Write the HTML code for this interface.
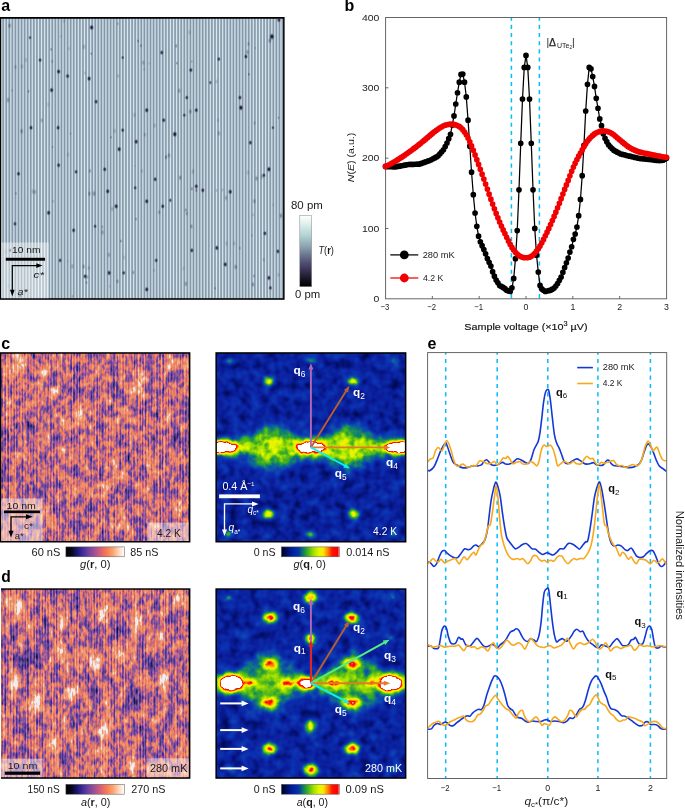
<!DOCTYPE html>
<html lang="en"><head><meta charset="utf-8"><title>Figure</title>
<style>html,body{margin:0;padding:0;background:#fff}svg{display:block}text{font-family:"Liberation Sans", sans-serif;}</style></head>
<body>
<svg width="685" height="809" viewBox="0 0 685 809">
<defs>
<linearGradient id="stripeA" gradientUnits="userSpaceOnUse" x1="0.07" x2="3.14" y1="0" y2="0" spreadMethod="repeat"><stop offset="0" stop-color="#8494a8"/><stop offset="0.12" stop-color="#8c9cb0"/><stop offset="0.5" stop-color="#d9eced"/><stop offset="0.88" stop-color="#8c9cb0"/><stop offset="1" stop-color="#8494a8"/></linearGradient>
<radialGradient id="spotA"><stop offset="0" stop-color="#120a26" stop-opacity="1"/><stop offset="0.35" stop-color="#1c1436" stop-opacity="0.85"/><stop offset="0.7" stop-color="#3a3a5a" stop-opacity="0.3"/><stop offset="1" stop-color="#556" stop-opacity="0"/></radialGradient>
<clipPath id="clipA"><rect x="1.1" y="18.5" width="282.2" height="279.9"/></clipPath>
<linearGradient id="cbA" x1="0" x2="0" y1="0" y2="1"><stop offset="0" stop-color="#ffffff"/><stop offset="0.12" stop-color="#dfeeee"/><stop offset="0.28" stop-color="#b3d2d2"/><stop offset="0.42" stop-color="#8fa9b3"/><stop offset="0.55" stop-color="#6c7892"/><stop offset="0.68" stop-color="#4f4870"/><stop offset="0.82" stop-color="#2c2740"/><stop offset="0.93" stop-color="#0e0c16"/><stop offset="1" stop-color="#000"/></linearGradient>
<filter id="texC" x="0" y="0" width="100%" height="100%" color-interpolation-filters="sRGB"><feTurbulence type="fractalNoise" baseFrequency="0.11 0.06" numOctaves="3" seed="11" result="n1"/><feTurbulence type="fractalNoise" baseFrequency="0.62 0.012" numOctaves="2" seed="18" result="n2"/><feTurbulence type="fractalNoise" baseFrequency="0.3 0.17" numOctaves="2" seed="14" result="n3"/><feColorMatrix in="n1" type="matrix" values="2.2 0 0 0 -0.600  2.2 0 0 0 -0.600  2.2 0 0 0 -0.600  0 0 0 0 1" result="a"/><feColorMatrix in="n2" type="matrix" values="0 2.0 0 0 -0.500  0 2.0 0 0 -0.500  0 2.0 0 0 -0.500  0 0 0 0 1" result="b"/><feColorMatrix in="n3" type="matrix" values="0 0 2.3 0 -0.650  0 0 2.3 0 -0.650  0 0 2.3 0 -0.650  0 0 0 0 1" result="c"/><feComposite in="a" in2="b" operator="arithmetic" k1="0" k2="0.36" k3="0.27" k4="0" result="ab"/><feComposite in="ab" in2="c" operator="arithmetic" k1="0" k2="1" k3="0.37" k4="0" result="abc"/><feGaussianBlur in="SourceGraphic" stdDeviation="2.2" result="src"/><feComposite in="abc" in2="src" operator="arithmetic" k1="0" k2="1" k3="1.0" k4="-0.480" result="s"/><feComponentTransfer in="s"><feFuncR type="table" tableValues="0.022 0.038 0.066 0.093 0.132 0.184 0.218 0.251 0.286 0.324 0.361 0.399 0.437 0.482 0.560 0.638 0.721 0.805 0.873 0.921 0.948 0.965 0.969 0.973 0.976 0.980 0.984 0.986 0.988 0.991 0.994 0.997 1.000"/><feFuncG type="table" tableValues="0.022 0.036 0.059 0.081 0.107 0.136 0.154 0.173 0.191 0.207 0.223 0.238 0.254 0.272 0.296 0.321 0.346 0.371 0.406 0.452 0.478 0.499 0.526 0.552 0.579 0.605 0.632 0.668 0.737 0.814 0.879 0.940 1.000"/><feFuncB type="table" tableValues="0.097 0.166 0.277 0.388 0.476 0.524 0.555 0.587 0.612 0.615 0.617 0.619 0.622 0.619 0.596 0.573 0.526 0.475 0.423 0.370 0.340 0.326 0.350 0.373 0.397 0.420 0.444 0.493 0.588 0.694 0.797 0.899 1.000"/><feFuncA type="linear" slope="0" intercept="1"/></feComponentTransfer></filter>
<filter id="texD" x="0" y="0" width="100%" height="100%" color-interpolation-filters="sRGB"><feTurbulence type="fractalNoise" baseFrequency="0.10 0.055" numOctaves="3" seed="29" result="n1"/><feTurbulence type="fractalNoise" baseFrequency="0.62 0.012" numOctaves="2" seed="36" result="n2"/><feTurbulence type="fractalNoise" baseFrequency="0.3 0.17" numOctaves="2" seed="32" result="n3"/><feColorMatrix in="n1" type="matrix" values="2.4 0 0 0 -0.700  2.4 0 0 0 -0.700  2.4 0 0 0 -0.700  0 0 0 0 1" result="a"/><feColorMatrix in="n2" type="matrix" values="0 2.1 0 0 -0.550  0 2.1 0 0 -0.550  0 2.1 0 0 -0.550  0 0 0 0 1" result="b"/><feColorMatrix in="n3" type="matrix" values="0 0 2.4 0 -0.700  0 0 2.4 0 -0.700  0 0 2.4 0 -0.700  0 0 0 0 1" result="c"/><feComposite in="a" in2="b" operator="arithmetic" k1="0" k2="0.36" k3="0.27" k4="0" result="ab"/><feComposite in="ab" in2="c" operator="arithmetic" k1="0" k2="1" k3="0.37" k4="0" result="abc"/><feGaussianBlur in="SourceGraphic" stdDeviation="2.2" result="src"/><feComposite in="abc" in2="src" operator="arithmetic" k1="0" k2="1" k3="1.5" k4="-0.725" result="s"/><feComponentTransfer in="s"><feFuncR type="table" tableValues="0.022 0.038 0.066 0.093 0.132 0.184 0.218 0.251 0.286 0.324 0.361 0.399 0.437 0.482 0.560 0.638 0.721 0.805 0.873 0.921 0.948 0.965 0.969 0.973 0.976 0.980 0.984 0.986 0.988 0.991 0.994 0.997 1.000"/><feFuncG type="table" tableValues="0.022 0.036 0.059 0.081 0.107 0.136 0.154 0.173 0.191 0.207 0.223 0.238 0.254 0.272 0.296 0.321 0.346 0.371 0.406 0.452 0.478 0.499 0.526 0.552 0.579 0.605 0.632 0.668 0.737 0.814 0.879 0.940 1.000"/><feFuncB type="table" tableValues="0.097 0.166 0.277 0.388 0.476 0.524 0.555 0.587 0.612 0.615 0.617 0.619 0.622 0.619 0.596 0.573 0.526 0.475 0.423 0.370 0.340 0.326 0.350 0.373 0.397 0.420 0.444 0.493 0.588 0.694 0.797 0.899 1.000"/><feFuncA type="linear" slope="0" intercept="1"/></feComponentTransfer></filter>
<pattern id="patG" x="0.4" y="0" width="2.87" height="40" patternUnits="userSpaceOnUse"><rect x="0" y="0" width="0.8" height="40" fill="#ffc79c" fill-opacity="0.42"/><rect x="1.45" y="0" width="0.8" height="40" fill="#40288c" fill-opacity="0.22"/></pattern>
<filter id="blB" x="-50%" y="-50%" width="200%" height="200%"><feGaussianBlur stdDeviation="2.5"/></filter>
<clipPath id="cliptexC"><rect x="1.2" y="353.7" width="187.6" height="187.20"/></clipPath>
<clipPath id="cliptexD"><rect x="1.2" y="589.8" width="187.6" height="187.40"/></clipPath>
<linearGradient id="cbM" x1="0" x2="1" y1="0" y2="0"><stop offset="0.0" stop-color="#000000"/><stop offset="0.1" stop-color="#07071f"/><stop offset="0.2" stop-color="#1c1874"/><stop offset="0.3" stop-color="#47309c"/><stop offset="0.4" stop-color="#77449f"/><stop offset="0.5" stop-color="#a65391"/><stop offset="0.6" stop-color="#d96272"/><stop offset="0.7" stop-color="#f67e52"/><stop offset="0.8" stop-color="#fba272"/><stop offset="0.9" stop-color="#fdd6ba"/><stop offset="1.0" stop-color="#ffffff"/></linearGradient>
<linearGradient id="cbJ" x1="0" x2="1" y1="0" y2="0"><stop offset="0" stop-color="#000018"/><stop offset="0.1" stop-color="#001068"/><stop offset="0.2" stop-color="#0020a6"/><stop offset="0.3" stop-color="#0636a2"/><stop offset="0.38" stop-color="#108060"/><stop offset="0.45" stop-color="#3fae20"/><stop offset="0.55" stop-color="#9fe000"/><stop offset="0.65" stop-color="#e6f800"/><stop offset="0.72" stop-color="#ffe600"/><stop offset="0.8" stop-color="#ff8200"/><stop offset="0.87" stop-color="#ff1400"/><stop offset="0.97" stop-color="#ff0000"/><stop offset="1" stop-color="#ffd0d0"/></linearGradient>
<filter id="jetC" x="0" y="0" width="100%" height="100%" color-interpolation-filters="sRGB"><feGaussianBlur in="SourceGraphic" stdDeviation="1.0" result="src"/><feTurbulence type="fractalNoise" baseFrequency="0.10 0.10" numOctaves="2" seed="5" result="n1"/><feTurbulence type="fractalNoise" baseFrequency="0.2 0.2" numOctaves="2" seed="9" result="n2"/><feColorMatrix in="n1" type="matrix" values="1 0 0 0 0  1 0 0 0 0  1 0 0 0 0  0 0 0 0 1" result="m1"/><feColorMatrix in="n2" type="matrix" values="0 2.2 0 0 -0.6  0 2.2 0 0 -0.6  0 2.2 0 0 -0.6  0 0 0 0 1" result="m2"/><feComposite in="src" in2="m2" operator="arithmetic" k1="0.3" k2="0.78" k3="0" k4="0" result="s1"/><feComposite in="s1" in2="m1" operator="arithmetic" k1="0" k2="1" k3="0.3" k4="0.02" result="s"/><feComponentTransfer in="s"><feFuncR type="table" tableValues="0.000 0.000 0.000 0.002 0.015 0.027 0.039 0.041 0.044 0.046 0.048 0.051 0.054 0.059 0.065 0.085 0.159 0.232 0.331 0.435 0.540 0.641 0.728 0.815 0.902 0.937 0.972 1.000 1.000 1.000 1.000 1.000 1.000 0.975 0.951 0.976 1.000 1.000 1.000 1.000 1.000"/><feFuncG type="table" tableValues="0.000 0.017 0.034 0.051 0.071 0.090 0.110 0.136 0.162 0.188 0.222 0.269 0.315 0.381 0.461 0.539 0.604 0.669 0.726 0.780 0.835 0.884 0.914 0.943 0.973 0.947 0.922 0.877 0.751 0.625 0.476 0.293 0.110 0.064 0.018 0.212 0.741 1.000 1.000 1.000 1.000"/><feFuncB type="table" tableValues="0.110 0.194 0.278 0.361 0.439 0.518 0.596 0.627 0.657 0.688 0.699 0.682 0.666 0.598 0.497 0.393 0.278 0.164 0.110 0.071 0.031 0.000 0.000 0.000 0.000 0.000 0.000 0.000 0.000 0.000 0.000 0.000 0.000 0.000 0.000 0.212 0.741 1.000 1.000 1.000 1.000"/><feFuncA type="linear" slope="0" intercept="1"/></feComponentTransfer></filter>
<filter id="jetD" x="0" y="0" width="100%" height="100%" color-interpolation-filters="sRGB"><feGaussianBlur in="SourceGraphic" stdDeviation="1.0" result="src"/><feTurbulence type="fractalNoise" baseFrequency="0.10 0.10" numOctaves="2" seed="17" result="n1"/><feTurbulence type="fractalNoise" baseFrequency="0.2 0.2" numOctaves="2" seed="21" result="n2"/><feColorMatrix in="n1" type="matrix" values="1 0 0 0 0  1 0 0 0 0  1 0 0 0 0  0 0 0 0 1" result="m1"/><feColorMatrix in="n2" type="matrix" values="0 2.2 0 0 -0.6  0 2.2 0 0 -0.6  0 2.2 0 0 -0.6  0 0 0 0 1" result="m2"/><feComposite in="src" in2="m2" operator="arithmetic" k1="0.24" k2="0.81" k3="0" k4="0" result="s1"/><feComposite in="s1" in2="m1" operator="arithmetic" k1="0" k2="1" k3="0.3" k4="0.025" result="s"/><feComponentTransfer in="s"><feFuncR type="table" tableValues="0.000 0.000 0.000 0.002 0.015 0.027 0.039 0.041 0.044 0.046 0.048 0.051 0.054 0.059 0.065 0.085 0.159 0.232 0.331 0.435 0.540 0.641 0.728 0.815 0.902 0.937 0.972 1.000 1.000 1.000 1.000 1.000 1.000 0.975 0.951 0.976 1.000 1.000 1.000 1.000 1.000"/><feFuncG type="table" tableValues="0.000 0.017 0.034 0.051 0.071 0.090 0.110 0.136 0.162 0.188 0.222 0.269 0.315 0.381 0.461 0.539 0.604 0.669 0.726 0.780 0.835 0.884 0.914 0.943 0.973 0.947 0.922 0.877 0.751 0.625 0.476 0.293 0.110 0.064 0.018 0.212 0.741 1.000 1.000 1.000 1.000"/><feFuncB type="table" tableValues="0.110 0.194 0.278 0.361 0.439 0.518 0.596 0.627 0.657 0.688 0.699 0.682 0.666 0.598 0.497 0.393 0.278 0.164 0.110 0.071 0.031 0.000 0.000 0.000 0.000 0.000 0.000 0.000 0.000 0.000 0.000 0.000 0.000 0.000 0.000 0.212 0.741 1.000 1.000 1.000 1.000"/><feFuncA type="linear" slope="0" intercept="1"/></feComponentTransfer></filter>
<filter id="bl3" x="-20%" y="-20%" width="140%" height="140%"><feGaussianBlur stdDeviation="2.6"/></filter>
<filter id="bl15" x="-30%" y="-30%" width="160%" height="160%"><feGaussianBlur stdDeviation="1.4"/></filter>
<filter id="bl4" x="-20%" y="-40%" width="140%" height="180%"><feGaussianBlur stdDeviation="4"/></filter>
<filter id="bl2" x="-50%" y="-50%" width="200%" height="200%"><feGaussianBlur stdDeviation="2"/></filter>
<clipPath id="clipjetC"><rect x="216.9" y="353.7" width="188.00" height="187.20"/></clipPath>
<clipPath id="clipjetD"><rect x="216.9" y="589.8" width="188.00" height="187.40"/></clipPath>
</defs>
<text x="1.20" y="11.20" font-size="16" font-weight="bold" fill="#000" >a</text>
<rect x="0.0" y="17.0" width="284.6" height="282.8" fill="#000"/>
<g clip-path="url(#clipA)">
<rect x="1.1" y="18.5" width="282.2" height="279.9" fill="url(#stripeA)"/>
<ellipse cx="91.6" cy="27.5" rx="2.61" ry="3.33" fill="url(#spotA)" opacity="0.95"/>
<ellipse cx="271.9" cy="36.6" rx="2.99" ry="3.82" fill="url(#spotA)" opacity="1.00"/>
<ellipse cx="278.9" cy="20.0" rx="2.36" ry="3.01" fill="url(#spotA)" opacity="0.83"/>
<ellipse cx="161.7" cy="52.6" rx="2.36" ry="3.01" fill="url(#spotA)" opacity="0.83"/>
<ellipse cx="245.9" cy="56.6" rx="2.36" ry="3.01" fill="url(#spotA)" opacity="0.83"/>
<ellipse cx="218.8" cy="59.1" rx="2.23" ry="2.85" fill="url(#spotA)" opacity="0.77"/>
<ellipse cx="58.6" cy="71.6" rx="2.48" ry="3.17" fill="url(#spotA)" opacity="0.89"/>
<ellipse cx="67.6" cy="76.1" rx="2.36" ry="3.01" fill="url(#spotA)" opacity="0.83"/>
<ellipse cx="89.1" cy="78.6" rx="2.48" ry="3.17" fill="url(#spotA)" opacity="0.89"/>
<ellipse cx="51.6" cy="90.1" rx="2.48" ry="3.17" fill="url(#spotA)" opacity="0.89"/>
<ellipse cx="190.8" cy="70.1" rx="2.36" ry="3.01" fill="url(#spotA)" opacity="0.83"/>
<ellipse cx="239.9" cy="97.6" rx="2.36" ry="3.01" fill="url(#spotA)" opacity="0.83"/>
<ellipse cx="186.8" cy="97.6" rx="2.23" ry="2.85" fill="url(#spotA)" opacity="0.77"/>
<ellipse cx="240.9" cy="107.7" rx="2.74" ry="3.50" fill="url(#spotA)" opacity="1.00"/>
<ellipse cx="96.1" cy="101.7" rx="2.36" ry="3.01" fill="url(#spotA)" opacity="0.83"/>
<ellipse cx="146.7" cy="110.2" rx="2.48" ry="3.17" fill="url(#spotA)" opacity="0.89"/>
<ellipse cx="196.3" cy="110.2" rx="2.36" ry="3.01" fill="url(#spotA)" opacity="0.83"/>
<ellipse cx="163.7" cy="120.2" rx="2.36" ry="3.01" fill="url(#spotA)" opacity="0.83"/>
<ellipse cx="31.0" cy="127.7" rx="2.36" ry="3.01" fill="url(#spotA)" opacity="0.83"/>
<ellipse cx="58.1" cy="127.7" rx="2.36" ry="3.01" fill="url(#spotA)" opacity="0.83"/>
<ellipse cx="174.8" cy="134.2" rx="2.74" ry="3.50" fill="url(#spotA)" opacity="1.00"/>
<ellipse cx="136.2" cy="141.7" rx="2.48" ry="3.17" fill="url(#spotA)" opacity="0.89"/>
<ellipse cx="119.2" cy="149.2" rx="2.48" ry="3.17" fill="url(#spotA)" opacity="0.89"/>
<ellipse cx="250.4" cy="142.7" rx="2.36" ry="3.01" fill="url(#spotA)" opacity="0.83"/>
<ellipse cx="58.6" cy="165.2" rx="2.36" ry="3.01" fill="url(#spotA)" opacity="0.83"/>
<ellipse cx="18.5" cy="173.8" rx="2.36" ry="3.01" fill="url(#spotA)" opacity="0.83"/>
<ellipse cx="76.1" cy="171.8" rx="2.23" ry="2.85" fill="url(#spotA)" opacity="0.77"/>
<ellipse cx="104.7" cy="169.3" rx="2.36" ry="3.01" fill="url(#spotA)" opacity="0.83"/>
<ellipse cx="268.9" cy="169.3" rx="2.61" ry="3.33" fill="url(#spotA)" opacity="0.95"/>
<ellipse cx="263.9" cy="175.3" rx="2.23" ry="2.85" fill="url(#spotA)" opacity="0.77"/>
<ellipse cx="155.2" cy="179.3" rx="2.36" ry="3.01" fill="url(#spotA)" opacity="0.83"/>
<ellipse cx="196.3" cy="186.3" rx="2.36" ry="3.01" fill="url(#spotA)" opacity="0.83"/>
<ellipse cx="202.8" cy="190.3" rx="2.36" ry="3.01" fill="url(#spotA)" opacity="0.83"/>
<ellipse cx="230.3" cy="191.8" rx="2.48" ry="3.17" fill="url(#spotA)" opacity="0.89"/>
<ellipse cx="107.7" cy="191.3" rx="2.48" ry="3.17" fill="url(#spotA)" opacity="0.89"/>
<ellipse cx="135.2" cy="187.8" rx="2.11" ry="2.69" fill="url(#spotA)" opacity="0.71"/>
<ellipse cx="146.7" cy="201.3" rx="2.48" ry="3.17" fill="url(#spotA)" opacity="0.89"/>
<ellipse cx="162.7" cy="206.3" rx="2.36" ry="3.01" fill="url(#spotA)" opacity="0.83"/>
<ellipse cx="116.2" cy="206.3" rx="2.48" ry="3.17" fill="url(#spotA)" opacity="0.89"/>
<ellipse cx="48.6" cy="212.8" rx="2.48" ry="3.17" fill="url(#spotA)" opacity="0.89"/>
<ellipse cx="15.0" cy="223.8" rx="2.23" ry="2.85" fill="url(#spotA)" opacity="0.77"/>
<ellipse cx="73.6" cy="230.3" rx="2.36" ry="3.01" fill="url(#spotA)" opacity="0.83"/>
<ellipse cx="95.1" cy="226.3" rx="2.11" ry="2.69" fill="url(#spotA)" opacity="0.71"/>
<ellipse cx="264.9" cy="233.4" rx="2.36" ry="3.01" fill="url(#spotA)" opacity="0.83"/>
<ellipse cx="216.8" cy="247.9" rx="2.48" ry="3.17" fill="url(#spotA)" opacity="0.89"/>
<ellipse cx="191.8" cy="250.4" rx="2.36" ry="3.01" fill="url(#spotA)" opacity="0.83"/>
<ellipse cx="156.2" cy="260.4" rx="2.23" ry="2.85" fill="url(#spotA)" opacity="0.77"/>
<ellipse cx="225.3" cy="264.4" rx="2.48" ry="3.17" fill="url(#spotA)" opacity="0.89"/>
<ellipse cx="60.1" cy="260.4" rx="2.23" ry="2.85" fill="url(#spotA)" opacity="0.77"/>
<ellipse cx="85.1" cy="276.4" rx="2.36" ry="3.01" fill="url(#spotA)" opacity="0.83"/>
<ellipse cx="109.2" cy="272.9" rx="2.48" ry="3.17" fill="url(#spotA)" opacity="0.89"/>
<ellipse cx="123.7" cy="272.9" rx="2.23" ry="2.85" fill="url(#spotA)" opacity="0.77"/>
<ellipse cx="268.9" cy="277.9" rx="2.48" ry="3.17" fill="url(#spotA)" opacity="0.89"/>
<ellipse cx="146.7" cy="289.4" rx="2.48" ry="3.17" fill="url(#spotA)" opacity="0.89"/>
<ellipse cx="270.4" cy="287.9" rx="2.23" ry="2.85" fill="url(#spotA)" opacity="0.77"/>
<ellipse cx="20.0" cy="295.4" rx="2.11" ry="2.69" fill="url(#spotA)" opacity="0.71"/>
<ellipse cx="170.3" cy="200.3" rx="2.11" ry="2.69" fill="url(#spotA)" opacity="0.71"/>
<ellipse cx="30.0" cy="37.6" rx="1.98" ry="2.53" fill="url(#spotA)" opacity="0.65"/>
<ellipse cx="40.1" cy="60.1" rx="2.23" ry="2.85" fill="url(#spotA)" opacity="0.77"/>
<ellipse cx="122.7" cy="57.6" rx="1.98" ry="2.53" fill="url(#spotA)" opacity="0.65"/>
<ellipse cx="210.3" cy="82.6" rx="1.98" ry="2.53" fill="url(#spotA)" opacity="0.65"/>
<ellipse cx="184.3" cy="115.2" rx="2.11" ry="2.69" fill="url(#spotA)" opacity="0.71"/>
<ellipse cx="122.7" cy="130.2" rx="2.23" ry="2.85" fill="url(#spotA)" opacity="0.77"/>
<ellipse cx="272.9" cy="127.7" rx="1.98" ry="2.53" fill="url(#spotA)" opacity="0.65"/>
<ellipse cx="10.0" cy="250.4" rx="1.98" ry="2.53" fill="url(#spotA)" opacity="0.65"/>
<ellipse cx="277.9" cy="251.4" rx="2.36" ry="3.01" fill="url(#spotA)" opacity="0.83"/>
<ellipse cx="68.9" cy="48.6" rx="1.72" ry="2.80" fill="url(#spotA)" opacity="0.16"/>
<ellipse cx="21.6" cy="131.2" rx="2.31" ry="3.75" fill="url(#spotA)" opacity="0.33"/>
<ellipse cx="216.5" cy="81.5" rx="1.88" ry="3.06" fill="url(#spotA)" opacity="0.19"/>
<ellipse cx="51.2" cy="49.4" rx="1.52" ry="2.47" fill="url(#spotA)" opacity="0.36"/>
<ellipse cx="234.3" cy="243.4" rx="2.18" ry="3.54" fill="url(#spotA)" opacity="0.17"/>
<ellipse cx="89.4" cy="193.7" rx="2.10" ry="3.41" fill="url(#spotA)" opacity="0.34"/>
<ellipse cx="248.5" cy="44.0" rx="1.96" ry="3.18" fill="url(#spotA)" opacity="0.29"/>
<ellipse cx="144.2" cy="69.2" rx="1.81" ry="2.94" fill="url(#spotA)" opacity="0.14"/>
<ellipse cx="263.8" cy="259.7" rx="1.89" ry="3.08" fill="url(#spotA)" opacity="0.20"/>
<ellipse cx="256.6" cy="178.5" rx="2.27" ry="3.69" fill="url(#spotA)" opacity="0.34"/>
<ellipse cx="144.8" cy="134.7" rx="1.95" ry="3.17" fill="url(#spotA)" opacity="0.23"/>
<ellipse cx="48.0" cy="104.5" rx="2.19" ry="3.56" fill="url(#spotA)" opacity="0.13"/>
<ellipse cx="15.9" cy="193.5" rx="1.59" ry="2.59" fill="url(#spotA)" opacity="0.26"/>
<ellipse cx="134.5" cy="115.0" rx="2.40" ry="3.90" fill="url(#spotA)" opacity="0.17"/>
<ellipse cx="118.2" cy="76.1" rx="1.99" ry="3.23" fill="url(#spotA)" opacity="0.19"/>
<ellipse cx="102.3" cy="226.9" rx="1.64" ry="2.66" fill="url(#spotA)" opacity="0.27"/>
<ellipse cx="255.3" cy="48.0" rx="1.35" ry="2.19" fill="url(#spotA)" opacity="0.18"/>
<ellipse cx="216.5" cy="190.5" rx="1.55" ry="2.51" fill="url(#spotA)" opacity="0.21"/>
<ellipse cx="52.5" cy="147.1" rx="1.33" ry="2.16" fill="url(#spotA)" opacity="0.30"/>
<ellipse cx="253.0" cy="284.5" rx="2.10" ry="3.42" fill="url(#spotA)" opacity="0.37"/>
<ellipse cx="8.1" cy="100.1" rx="2.36" ry="3.84" fill="url(#spotA)" opacity="0.32"/>
<ellipse cx="117.5" cy="281.3" rx="1.97" ry="3.21" fill="url(#spotA)" opacity="0.33"/>
<ellipse cx="84.9" cy="73.0" rx="1.78" ry="2.89" fill="url(#spotA)" opacity="0.16"/>
<ellipse cx="109.5" cy="286.4" rx="1.65" ry="2.68" fill="url(#spotA)" opacity="0.12"/>
<ellipse cx="15.5" cy="67.0" rx="2.16" ry="3.51" fill="url(#spotA)" opacity="0.21"/>
<ellipse cx="84.0" cy="46.9" rx="2.38" ry="3.87" fill="url(#spotA)" opacity="0.23"/>
<ellipse cx="61.0" cy="36.4" rx="1.34" ry="2.18" fill="url(#spotA)" opacity="0.16"/>
<ellipse cx="191.8" cy="61.5" rx="1.33" ry="2.15" fill="url(#spotA)" opacity="0.25"/>
<ellipse cx="72.5" cy="296.3" rx="1.42" ry="2.30" fill="url(#spotA)" opacity="0.26"/>
<ellipse cx="218.9" cy="133.4" rx="2.39" ry="3.88" fill="url(#spotA)" opacity="0.24"/>
<ellipse cx="70.5" cy="133.7" rx="1.32" ry="2.15" fill="url(#spotA)" opacity="0.23"/>
<ellipse cx="72.4" cy="266.3" rx="2.21" ry="3.59" fill="url(#spotA)" opacity="0.25"/>
<ellipse cx="11.8" cy="90.5" rx="1.55" ry="2.52" fill="url(#spotA)" opacity="0.17"/>
<ellipse cx="67.6" cy="260.9" rx="1.44" ry="2.34" fill="url(#spotA)" opacity="0.13"/>
<ellipse cx="261.9" cy="176.6" rx="2.39" ry="3.88" fill="url(#spotA)" opacity="0.22"/>
<ellipse cx="254.4" cy="201.2" rx="2.17" ry="3.52" fill="url(#spotA)" opacity="0.31"/>
<ellipse cx="140.9" cy="45.7" rx="1.52" ry="2.46" fill="url(#spotA)" opacity="0.35"/>
<ellipse cx="254.0" cy="276.1" rx="1.66" ry="2.69" fill="url(#spotA)" opacity="0.29"/>
<ellipse cx="226.1" cy="198.0" rx="2.19" ry="3.56" fill="url(#spotA)" opacity="0.26"/>
<ellipse cx="185.7" cy="210.0" rx="1.58" ry="2.57" fill="url(#spotA)" opacity="0.36"/>
<ellipse cx="269.8" cy="40.6" rx="2.37" ry="3.85" fill="url(#spotA)" opacity="0.37"/>
<ellipse cx="189.5" cy="32.3" rx="2.29" ry="3.72" fill="url(#spotA)" opacity="0.15"/>
<ellipse cx="273.2" cy="204.8" rx="1.35" ry="2.19" fill="url(#spotA)" opacity="0.16"/>
<ellipse cx="180.2" cy="177.7" rx="2.12" ry="3.44" fill="url(#spotA)" opacity="0.36"/>
<ellipse cx="64.0" cy="20.9" rx="2.31" ry="3.76" fill="url(#spotA)" opacity="0.12"/>
<ellipse cx="247.5" cy="52.1" rx="2.19" ry="3.55" fill="url(#spotA)" opacity="0.32"/>
<ellipse cx="247.9" cy="172.5" rx="2.26" ry="3.68" fill="url(#spotA)" opacity="0.17"/>
<ellipse cx="190.3" cy="111.6" rx="2.28" ry="3.70" fill="url(#spotA)" opacity="0.32"/>
<ellipse cx="134.6" cy="165.8" rx="1.31" ry="2.13" fill="url(#spotA)" opacity="0.13"/>
<ellipse cx="168.9" cy="155.4" rx="2.25" ry="3.65" fill="url(#spotA)" opacity="0.28"/>
<ellipse cx="41.7" cy="120.4" rx="2.14" ry="3.48" fill="url(#spotA)" opacity="0.26"/>
<ellipse cx="5.9" cy="252.0" rx="2.21" ry="3.59" fill="url(#spotA)" opacity="0.14"/>
<ellipse cx="154.6" cy="125.6" rx="2.16" ry="3.51" fill="url(#spotA)" opacity="0.20"/>
<ellipse cx="68.2" cy="154.8" rx="2.36" ry="3.84" fill="url(#spotA)" opacity="0.14"/>
<ellipse cx="34.9" cy="192.0" rx="2.27" ry="3.69" fill="url(#spotA)" opacity="0.25"/>
<ellipse cx="124.1" cy="257.6" rx="2.15" ry="3.49" fill="url(#spotA)" opacity="0.14"/>
<ellipse cx="248.9" cy="74.3" rx="1.62" ry="2.63" fill="url(#spotA)" opacity="0.34"/>
<ellipse cx="120.9" cy="241.1" rx="1.47" ry="2.38" fill="url(#spotA)" opacity="0.35"/>
<ellipse cx="52.2" cy="61.4" rx="1.83" ry="2.98" fill="url(#spotA)" opacity="0.21"/>
<ellipse cx="154.2" cy="270.4" rx="2.08" ry="3.37" fill="url(#spotA)" opacity="0.12"/>
<ellipse cx="90.0" cy="171.0" rx="1.82" ry="2.97" fill="url(#spotA)" opacity="0.31"/>
<ellipse cx="138.1" cy="41.0" rx="1.55" ry="2.53" fill="url(#spotA)" opacity="0.34"/>
<ellipse cx="102.5" cy="232.4" rx="2.38" ry="3.87" fill="url(#spotA)" opacity="0.28"/>
<ellipse cx="191.8" cy="188.8" rx="1.63" ry="2.65" fill="url(#spotA)" opacity="0.36"/>
<ellipse cx="133.3" cy="272.5" rx="1.62" ry="2.64" fill="url(#spotA)" opacity="0.35"/>
<ellipse cx="222.5" cy="189.8" rx="1.78" ry="2.88" fill="url(#spotA)" opacity="0.16"/>
<ellipse cx="218.1" cy="120.3" rx="2.02" ry="3.28" fill="url(#spotA)" opacity="0.15"/>
<ellipse cx="26.0" cy="59.9" rx="2.19" ry="3.55" fill="url(#spotA)" opacity="0.17"/>
<ellipse cx="254.6" cy="123.0" rx="1.93" ry="3.13" fill="url(#spotA)" opacity="0.21"/>
<ellipse cx="176.2" cy="45.9" rx="1.73" ry="2.81" fill="url(#spotA)" opacity="0.36"/>
<ellipse cx="53.1" cy="201.2" rx="1.65" ry="2.67" fill="url(#spotA)" opacity="0.20"/>
<ellipse cx="9.5" cy="25.6" rx="2.34" ry="3.81" fill="url(#spotA)" opacity="0.34"/>
<ellipse cx="226.5" cy="243.6" rx="2.35" ry="3.82" fill="url(#spotA)" opacity="0.16"/>
<ellipse cx="166.0" cy="157.2" rx="1.92" ry="3.12" fill="url(#spotA)" opacity="0.36"/>
<ellipse cx="215.1" cy="288.3" rx="1.41" ry="2.29" fill="url(#spotA)" opacity="0.29"/>
<ellipse cx="191.4" cy="226.4" rx="1.97" ry="3.20" fill="url(#spotA)" opacity="0.34"/>
<ellipse cx="87.5" cy="277.0" rx="1.73" ry="2.82" fill="url(#spotA)" opacity="0.28"/>
<ellipse cx="253.2" cy="214.9" rx="1.63" ry="2.64" fill="url(#spotA)" opacity="0.18"/>
<ellipse cx="94.1" cy="193.6" rx="2.40" ry="3.89" fill="url(#spotA)" opacity="0.35"/>
<ellipse cx="114.7" cy="131.0" rx="2.20" ry="3.57" fill="url(#spotA)" opacity="0.19"/>
<ellipse cx="117.8" cy="23.7" rx="1.49" ry="2.41" fill="url(#spotA)" opacity="0.26"/>
<ellipse cx="196.4" cy="190.3" rx="1.69" ry="2.74" fill="url(#spotA)" opacity="0.37"/>
<ellipse cx="176.9" cy="63.2" rx="1.36" ry="2.20" fill="url(#spotA)" opacity="0.37"/>
<ellipse cx="278.6" cy="274.8" rx="1.96" ry="3.18" fill="url(#spotA)" opacity="0.20"/>
<ellipse cx="28.5" cy="91.4" rx="1.53" ry="2.48" fill="url(#spotA)" opacity="0.36"/>
<ellipse cx="252.0" cy="235.5" rx="1.45" ry="2.35" fill="url(#spotA)" opacity="0.18"/>
<ellipse cx="86.5" cy="282.6" rx="1.46" ry="2.38" fill="url(#spotA)" opacity="0.33"/>
<ellipse cx="192.9" cy="171.6" rx="2.35" ry="3.83" fill="url(#spotA)" opacity="0.19"/>
<ellipse cx="149.3" cy="63.6" rx="1.39" ry="2.26" fill="url(#spotA)" opacity="0.13"/>
<ellipse cx="91.3" cy="53.7" rx="1.35" ry="2.19" fill="url(#spotA)" opacity="0.38"/>
<ellipse cx="83.6" cy="266.6" rx="2.07" ry="3.36" fill="url(#spotA)" opacity="0.31"/>
<ellipse cx="185.8" cy="283.9" rx="2.26" ry="3.68" fill="url(#spotA)" opacity="0.31"/>
<ellipse cx="159.2" cy="212.2" rx="2.09" ry="3.40" fill="url(#spotA)" opacity="0.26"/>
<ellipse cx="143.2" cy="62.7" rx="2.23" ry="3.62" fill="url(#spotA)" opacity="0.25"/>
<ellipse cx="21.9" cy="66.5" rx="2.26" ry="3.67" fill="url(#spotA)" opacity="0.19"/>
<ellipse cx="112.2" cy="209.0" rx="2.24" ry="3.65" fill="url(#spotA)" opacity="0.21"/>
<ellipse cx="110.9" cy="137.2" rx="1.31" ry="2.13" fill="url(#spotA)" opacity="0.35"/>
<ellipse cx="8.3" cy="285.9" rx="1.45" ry="2.36" fill="url(#spotA)" opacity="0.16"/>
<ellipse cx="239.8" cy="248.1" rx="1.54" ry="2.50" fill="url(#spotA)" opacity="0.26"/>
<ellipse cx="136.0" cy="219.0" rx="1.49" ry="2.42" fill="url(#spotA)" opacity="0.33"/>
<ellipse cx="281.0" cy="215.7" rx="2.31" ry="3.76" fill="url(#spotA)" opacity="0.36"/>
<ellipse cx="108.9" cy="254.8" rx="2.21" ry="3.60" fill="url(#spotA)" opacity="0.27"/>
<ellipse cx="32.9" cy="191.5" rx="2.30" ry="3.74" fill="url(#spotA)" opacity="0.20"/>
<ellipse cx="183.5" cy="268.5" rx="1.95" ry="3.17" fill="url(#spotA)" opacity="0.13"/>
<ellipse cx="179.3" cy="90.8" rx="2.24" ry="3.64" fill="url(#spotA)" opacity="0.29"/>
<ellipse cx="88.8" cy="268.1" rx="1.98" ry="3.22" fill="url(#spotA)" opacity="0.21"/>
<ellipse cx="235.7" cy="267.0" rx="2.28" ry="3.71" fill="url(#spotA)" opacity="0.35"/>
<ellipse cx="186.7" cy="213.5" rx="1.96" ry="3.18" fill="url(#spotA)" opacity="0.26"/>
<ellipse cx="278.5" cy="117.8" rx="1.37" ry="2.23" fill="url(#spotA)" opacity="0.31"/>
<ellipse cx="142.0" cy="171.1" rx="1.95" ry="3.17" fill="url(#spotA)" opacity="0.18"/>
<rect x="1.1" y="242.5" width="47.7" height="56" fill="#fff" fill-opacity="0.42"/>
</g>
<text x="12.10" y="252.60" font-size="9.9" textLength="28.30" lengthAdjust="spacingAndGlyphs" fill="#111" >10 nm</text>
<rect x="5.8" y="257.8" width="39.2" height="2.9" fill="#000"/>
<path d="M12.3 291 V265.6 H37.5" fill="none" stroke="#000" stroke-width="1.2"/>
<path d="M42.6 265.6 L36.3 263.3 L36.3 267.9 Z" fill="#000"/>
<path d="M12.3 296.4 L10.0 289.8 L14.6 289.8 Z" fill="#000"/>
<text x="33.60" y="277.90" font-size="9.3" textLength="10.50" lengthAdjust="spacingAndGlyphs" font-style="italic" fill="#1a1a1a" >c*</text>
<text x="17.60" y="295.30" font-size="9.3" textLength="10.20" lengthAdjust="spacingAndGlyphs" font-style="italic" fill="#1a1a1a" >a*</text>
<rect x="299.8" y="215.5" width="11.9" height="71.2" fill="url(#cbA)" stroke="#888" stroke-width="0.5"/>
<text x="291.00" y="208.60" font-size="10.2" textLength="31.80" lengthAdjust="spacingAndGlyphs" fill="#1a1a1a" >80 pm</text>
<text x="295.10" y="298.40" font-size="10.2" textLength="25.20" lengthAdjust="spacingAndGlyphs" fill="#1a1a1a" >0 pm</text>
<text x="318.4" y="254.3" font-size="10.2" fill="#1a1a1a" textLength="15.4" lengthAdjust="spacingAndGlyphs"><tspan font-style="italic">T</tspan>(<tspan font-weight="bold">r</tspan>)</text>
<text x="344.40" y="11.40" font-size="16" font-weight="bold" fill="#000" >b</text>
<line x1="511.4" y1="17.5" x2="511.4" y2="298.8" stroke="#0cbcf8" stroke-width="1.55" stroke-dasharray="4.1 4.06" stroke-dashoffset="0.82"/>
<line x1="539.4" y1="17.5" x2="539.4" y2="298.8" stroke="#0cbcf8" stroke-width="1.55" stroke-dasharray="4.1 4.06" stroke-dashoffset="0.82"/>
<rect x="385.6" y="17.5" width="281.0" height="281.3" fill="none" stroke="#5e5e5e" stroke-width="0.95"/>
<line x1="385.6" y1="228.47" x2="388.40000000000003" y2="228.47" stroke="#5e5e5e" stroke-width="0.95"/>
<line x1="385.6" y1="158.14" x2="388.40000000000003" y2="158.14" stroke="#5e5e5e" stroke-width="0.95"/>
<line x1="385.6" y1="87.81" x2="388.40000000000003" y2="87.81" stroke="#5e5e5e" stroke-width="0.95"/>
<line x1="432.34" y1="298.8" x2="432.34" y2="296.0" stroke="#5e5e5e" stroke-width="0.95"/>
<line x1="479.17" y1="298.8" x2="479.17" y2="296.0" stroke="#5e5e5e" stroke-width="0.95"/>
<line x1="526.00" y1="298.8" x2="526.00" y2="296.0" stroke="#5e5e5e" stroke-width="0.95"/>
<line x1="572.83" y1="298.8" x2="572.83" y2="296.0" stroke="#5e5e5e" stroke-width="0.95"/>
<line x1="619.66" y1="298.8" x2="619.66" y2="296.0" stroke="#5e5e5e" stroke-width="0.95"/>
<text x="379.30" y="302.05" font-size="9.1" text-anchor="end" textLength="5.80" lengthAdjust="spacingAndGlyphs" fill="#1a1a1a" >0</text>
<text x="379.30" y="231.72" font-size="9.1" text-anchor="end" textLength="17.40" lengthAdjust="spacingAndGlyphs" fill="#1a1a1a" >100</text>
<text x="379.30" y="161.39" font-size="9.1" text-anchor="end" textLength="17.40" lengthAdjust="spacingAndGlyphs" fill="#1a1a1a" >200</text>
<text x="379.30" y="91.06" font-size="9.1" text-anchor="end" textLength="17.40" lengthAdjust="spacingAndGlyphs" fill="#1a1a1a" >300</text>
<text x="379.30" y="20.73" font-size="9.1" text-anchor="end" textLength="17.40" lengthAdjust="spacingAndGlyphs" fill="#1a1a1a" >400</text>
<text x="384.91" y="310.40" font-size="9.1" text-anchor="middle" textLength="8.80" lengthAdjust="spacingAndGlyphs" fill="#1a1a1a" >−3</text>
<text x="431.74" y="310.40" font-size="9.1" text-anchor="middle" textLength="8.80" lengthAdjust="spacingAndGlyphs" fill="#1a1a1a" >−2</text>
<text x="478.57" y="310.40" font-size="9.1" text-anchor="middle" textLength="8.80" lengthAdjust="spacingAndGlyphs" fill="#1a1a1a" >−1</text>
<text x="526.00" y="310.40" font-size="9.1" text-anchor="middle" textLength="4.90" lengthAdjust="spacingAndGlyphs" fill="#1a1a1a" >0</text>
<text x="572.83" y="310.40" font-size="9.1" text-anchor="middle" textLength="4.90" lengthAdjust="spacingAndGlyphs" fill="#1a1a1a" >1</text>
<text x="619.66" y="310.40" font-size="9.1" text-anchor="middle" textLength="4.90" lengthAdjust="spacingAndGlyphs" fill="#1a1a1a" >2</text>
<text x="666.49" y="310.40" font-size="9.1" text-anchor="middle" textLength="4.90" lengthAdjust="spacingAndGlyphs" fill="#1a1a1a" >3</text>
<text x="464.3" y="329.6" font-size="9.6" fill="#111" stroke="#111" stroke-width="0.15" textLength="123.3" lengthAdjust="spacingAndGlyphs">Sample voltage (×10<tspan dy="-3.2" font-size="6.5">3</tspan><tspan dy="3.2"> µV)</tspan></text>
<text transform="translate(353.9 182.2) rotate(-90)" font-size="9.6" fill="#1a1a1a" textLength="49.5" lengthAdjust="spacingAndGlyphs"><tspan font-style="italic">N</tspan>(<tspan font-style="italic">E</tspan>) (a.u.)</text>
<polyline points="385.51,166.58 387.27,166.64 389.02,166.71 390.78,166.77 392.53,166.83 394.29,166.89 396.05,166.80 397.80,166.47 399.56,166.14 401.32,165.81 403.07,165.48 404.83,165.15 406.58,164.82 408.34,164.49 410.10,164.42 411.85,164.36 413.61,164.30 415.36,164.24 417.12,164.19 418.88,164.13 420.63,163.63 422.39,163.03 424.14,162.43 425.90,161.82 427.66,161.22 429.41,160.61 431.17,159.85 432.93,158.87 434.68,157.88 436.44,156.89 438.19,155.77 439.95,153.79 441.71,151.81 443.46,149.83 445.22,146.54 446.97,143.08 448.73,138.65 450.49,134.23 452.24,125.08 454.00,115.94 455.75,103.99 457.51,92.73 459.27,82.18 461.02,74.45 462.78,74.10 464.54,82.18 466.29,96.95 468.05,120.16 469.80,146.18 471.56,172.21 473.32,194.71 475.07,213.00 476.83,226.36 478.58,236.21 480.34,241.83 482.10,245.72 483.85,249.61 485.61,253.89 487.37,258.51 489.12,262.31 490.88,266.10 492.63,271.64 494.39,276.20 496.15,280.02 497.90,282.82 499.66,285.50 501.41,286.47 503.17,287.45 504.93,288.68 506.68,290.15 508.44,290.88 510.19,291.49 511.95,287.76 513.71,278.40 515.46,258.71 517.22,230.58 518.98,189.79 520.73,143.37 522.49,99.06 524.24,67.41 526.00,55.46 527.76,67.41 529.51,99.06 531.27,143.37 533.02,189.79 534.78,228.47 536.54,255.20 538.29,272.07 540.05,285.44 541.81,288.95 543.56,290.23 545.32,291.39 547.07,291.03 548.83,290.67 550.59,290.22 552.34,289.13 554.10,288.05 555.85,286.05 557.61,283.59 559.37,280.29 561.12,277.00 562.88,272.25 564.63,267.50 566.39,262.76 568.15,258.01 569.90,252.07 571.66,246.76 573.42,239.37 575.17,234.10 576.93,226.98 578.68,215.71 580.44,199.46 582.20,175.72 583.95,145.23 585.71,110.98 587.46,84.29 589.22,67.41 590.98,68.82 592.73,76.56 594.49,86.40 596.25,98.36 598.00,108.25 599.76,118.93 601.51,125.63 603.27,133.84 605.03,138.23 606.78,141.64 608.54,144.84 610.29,146.82 612.05,148.50 613.81,150.18 615.56,151.22 617.32,152.16 619.07,153.10 620.83,153.98 622.59,154.42 624.34,154.86 626.10,155.30 627.86,155.74 629.61,156.17 631.37,156.59 633.12,157.01 634.88,157.43 636.64,157.85 638.39,158.27 640.15,158.57 641.90,158.74 643.66,158.92 645.42,159.09 647.17,159.26 648.93,159.43 650.68,159.62 652.44,159.84 654.20,160.06 655.95,160.28 657.71,160.50 659.47,160.53 661.22,160.40 662.98,160.27 664.73,159.27 666.49,158.14" fill="none" stroke="#000" stroke-width="1.25" stroke-linejoin="round"/>
<path d="M385.51 166.58h0M387.27 166.64h0M389.02 166.71h0M390.78 166.77h0M392.53 166.83h0M394.29 166.89h0M396.05 166.80h0M397.80 166.47h0M399.56 166.14h0M401.32 165.81h0M403.07 165.48h0M404.83 165.15h0M406.58 164.82h0M408.34 164.49h0M410.10 164.42h0M411.85 164.36h0M413.61 164.30h0M415.36 164.24h0M417.12 164.19h0M418.88 164.13h0M420.63 163.63h0M422.39 163.03h0M424.14 162.43h0M425.90 161.82h0M427.66 161.22h0M429.41 160.61h0M431.17 159.85h0M432.93 158.87h0M434.68 157.88h0M436.44 156.89h0M438.19 155.77h0M439.95 153.79h0M441.71 151.81h0M443.46 149.83h0M445.22 146.54h0M446.97 143.08h0M448.73 138.65h0M450.49 134.23h0M452.24 125.08h0M454.00 115.94h0M455.75 103.99h0M457.51 92.73h0M459.27 82.18h0M461.02 74.45h0M462.78 74.10h0M464.54 82.18h0M466.29 96.95h0M468.05 120.16h0M469.80 146.18h0M471.56 172.21h0M473.32 194.71h0M475.07 213.00h0M476.83 226.36h0M478.58 236.21h0M480.34 241.83h0M482.10 245.72h0M483.85 249.61h0M485.61 253.89h0M487.37 258.51h0M489.12 262.31h0M490.88 266.10h0M492.63 271.64h0M494.39 276.20h0M496.15 280.02h0M497.90 282.82h0M499.66 285.50h0M501.41 286.47h0M503.17 287.45h0M504.93 288.68h0M506.68 290.15h0M508.44 290.88h0M510.19 291.49h0M511.95 287.76h0M513.71 278.40h0M515.46 258.71h0M517.22 230.58h0M518.98 189.79h0M520.73 143.37h0M522.49 99.06h0M524.24 67.41h0M526.00 55.46h0M527.76 67.41h0M529.51 99.06h0M531.27 143.37h0M533.02 189.79h0M534.78 228.47h0M536.54 255.20h0M538.29 272.07h0M540.05 285.44h0M541.81 288.95h0M543.56 290.23h0M545.32 291.39h0M547.07 291.03h0M548.83 290.67h0M550.59 290.22h0M552.34 289.13h0M554.10 288.05h0M555.85 286.05h0M557.61 283.59h0M559.37 280.29h0M561.12 277.00h0M562.88 272.25h0M564.63 267.50h0M566.39 262.76h0M568.15 258.01h0M569.90 252.07h0M571.66 246.76h0M573.42 239.37h0M575.17 234.10h0M576.93 226.98h0M578.68 215.71h0M580.44 199.46h0M582.20 175.72h0M583.95 145.23h0M585.71 110.98h0M587.46 84.29h0M589.22 67.41h0M590.98 68.82h0M592.73 76.56h0M594.49 86.40h0M596.25 98.36h0M598.00 108.25h0M599.76 118.93h0M601.51 125.63h0M603.27 133.84h0M605.03 138.23h0M606.78 141.64h0M608.54 144.84h0M610.29 146.82h0M612.05 148.50h0M613.81 150.18h0M615.56 151.22h0M617.32 152.16h0M619.07 153.10h0M620.83 153.98h0M622.59 154.42h0M624.34 154.86h0M626.10 155.30h0M627.86 155.74h0M629.61 156.17h0M631.37 156.59h0M633.12 157.01h0M634.88 157.43h0M636.64 157.85h0M638.39 158.27h0M640.15 158.57h0M641.90 158.74h0M643.66 158.92h0M645.42 159.09h0M647.17 159.26h0M648.93 159.43h0M650.68 159.62h0M652.44 159.84h0M654.20 160.06h0M655.95 160.28h0M657.71 160.50h0M659.47 160.53h0M661.22 160.40h0M662.98 160.27h0M664.73 159.27h0M666.49 158.14h0" fill="none" stroke="#000" stroke-width="5.7" stroke-linecap="round"/>
<polyline points="385.51,166.17 387.27,165.55 389.02,164.73 390.78,163.80 392.53,162.83 394.29,161.82 396.05,160.76 397.80,159.68 399.56,158.59 401.32,157.46 403.07,156.28 404.83,155.07 406.58,153.82 408.34,152.57 410.10,151.32 411.85,150.04 413.61,148.72 415.36,147.38 417.12,146.01 418.88,144.64 420.63,143.26 422.39,141.87 424.14,140.44 425.90,138.97 427.66,137.47 429.41,135.96 431.17,134.44 432.93,132.97 434.68,131.56 436.44,130.27 438.19,129.05 439.95,127.87 441.71,126.78 443.46,125.87 445.22,125.22 446.97,124.77 448.73,124.42 450.49,124.17 452.24,124.13 454.00,124.41 455.75,124.92 457.51,125.58 459.27,126.47 461.02,127.78 462.78,129.69 464.54,132.04 466.29,134.82 468.05,138.03 469.80,141.77 471.56,145.92 473.32,150.34 475.07,154.93 476.83,159.64 478.58,164.42 480.34,169.24 482.10,174.13 483.85,179.08 485.61,184.07 487.37,189.09 489.12,194.14 490.88,199.16 492.63,204.08 494.39,208.83 496.15,213.43 497.90,217.85 499.66,222.08 501.41,226.06 503.17,229.88 504.93,233.61 506.68,237.29 508.44,240.93 510.19,244.38 511.95,247.47 513.71,250.05 515.46,252.23 517.22,254.03 518.98,255.50 520.73,256.55 522.49,257.25 524.24,257.63 526.00,257.77 527.76,257.61 529.51,257.16 531.27,256.29 533.02,255.00 534.78,253.25 536.54,251.18 538.29,248.76 540.05,245.96 541.81,242.80 543.56,239.38 545.32,235.83 547.07,232.17 548.83,228.42 550.59,224.55 552.34,220.56 554.10,216.42 555.85,212.16 557.61,207.78 559.37,203.26 561.12,198.66 562.88,194.03 564.63,189.44 566.39,184.92 568.15,180.40 569.90,175.80 571.66,171.26 573.42,167.00 575.17,163.14 576.93,159.59 578.68,156.20 580.44,153.02 582.20,149.88 583.95,146.72 585.71,143.66 587.46,141.02 589.22,138.88 590.98,137.04 592.73,135.38 594.49,133.94 596.25,132.83 598.00,132.03 599.76,131.46 601.51,131.11 603.27,130.96 605.03,131.05 606.78,131.35 608.54,131.84 610.29,132.56 612.05,133.55 613.81,134.82 615.56,136.24 617.32,137.75 619.07,139.25 620.83,140.74 622.59,142.21 624.34,143.68 626.10,145.12 627.86,146.46 629.61,147.62 631.37,148.58 633.12,149.41 634.88,150.19 636.64,150.94 638.39,151.63 640.15,152.20 641.90,152.64 643.66,153.01 645.42,153.35 647.17,153.70 648.93,154.05 650.68,154.40 652.44,154.76 654.20,155.13 655.95,155.49 657.71,155.84 659.47,156.18 661.22,156.50 662.98,156.82 664.73,157.09 666.49,157.30" fill="none" stroke="#f00000" stroke-width="1.25" stroke-linejoin="round"/>
<path d="M385.51 166.17h0M387.27 165.55h0M389.02 164.73h0M390.78 163.80h0M392.53 162.83h0M394.29 161.82h0M396.05 160.76h0M397.80 159.68h0M399.56 158.59h0M401.32 157.46h0M403.07 156.28h0M404.83 155.07h0M406.58 153.82h0M408.34 152.57h0M410.10 151.32h0M411.85 150.04h0M413.61 148.72h0M415.36 147.38h0M417.12 146.01h0M418.88 144.64h0M420.63 143.26h0M422.39 141.87h0M424.14 140.44h0M425.90 138.97h0M427.66 137.47h0M429.41 135.96h0M431.17 134.44h0M432.93 132.97h0M434.68 131.56h0M436.44 130.27h0M438.19 129.05h0M439.95 127.87h0M441.71 126.78h0M443.46 125.87h0M445.22 125.22h0M446.97 124.77h0M448.73 124.42h0M450.49 124.17h0M452.24 124.13h0M454.00 124.41h0M455.75 124.92h0M457.51 125.58h0M459.27 126.47h0M461.02 127.78h0M462.78 129.69h0M464.54 132.04h0M466.29 134.82h0M468.05 138.03h0M469.80 141.77h0M471.56 145.92h0M473.32 150.34h0M475.07 154.93h0M476.83 159.64h0M478.58 164.42h0M480.34 169.24h0M482.10 174.13h0M483.85 179.08h0M485.61 184.07h0M487.37 189.09h0M489.12 194.14h0M490.88 199.16h0M492.63 204.08h0M494.39 208.83h0M496.15 213.43h0M497.90 217.85h0M499.66 222.08h0M501.41 226.06h0M503.17 229.88h0M504.93 233.61h0M506.68 237.29h0M508.44 240.93h0M510.19 244.38h0M511.95 247.47h0M513.71 250.05h0M515.46 252.23h0M517.22 254.03h0M518.98 255.50h0M520.73 256.55h0M522.49 257.25h0M524.24 257.63h0M526.00 257.77h0M527.76 257.61h0M529.51 257.16h0M531.27 256.29h0M533.02 255.00h0M534.78 253.25h0M536.54 251.18h0M538.29 248.76h0M540.05 245.96h0M541.81 242.80h0M543.56 239.38h0M545.32 235.83h0M547.07 232.17h0M548.83 228.42h0M550.59 224.55h0M552.34 220.56h0M554.10 216.42h0M555.85 212.16h0M557.61 207.78h0M559.37 203.26h0M561.12 198.66h0M562.88 194.03h0M564.63 189.44h0M566.39 184.92h0M568.15 180.40h0M569.90 175.80h0M571.66 171.26h0M573.42 167.00h0M575.17 163.14h0M576.93 159.59h0M578.68 156.20h0M580.44 153.02h0M582.20 149.88h0M583.95 146.72h0M585.71 143.66h0M587.46 141.02h0M589.22 138.88h0M590.98 137.04h0M592.73 135.38h0M594.49 133.94h0M596.25 132.83h0M598.00 132.03h0M599.76 131.46h0M601.51 131.11h0M603.27 130.96h0M605.03 131.05h0M606.78 131.35h0M608.54 131.84h0M610.29 132.56h0M612.05 133.55h0M613.81 134.82h0M615.56 136.24h0M617.32 137.75h0M619.07 139.25h0M620.83 140.74h0M622.59 142.21h0M624.34 143.68h0M626.10 145.12h0M627.86 146.46h0M629.61 147.62h0M631.37 148.58h0M633.12 149.41h0M634.88 150.19h0M636.64 150.94h0M638.39 151.63h0M640.15 152.20h0M641.90 152.64h0M643.66 153.01h0M645.42 153.35h0M647.17 153.70h0M648.93 154.05h0M650.68 154.40h0M652.44 154.76h0M654.20 155.13h0M655.95 155.49h0M657.71 155.84h0M659.47 156.18h0M661.22 156.50h0M662.98 156.82h0M664.73 157.09h0M666.49 157.30h0" fill="none" stroke="#f00000" stroke-width="5.7" stroke-linecap="round"/>
<line x1="390.3" y1="254.9" x2="418.3" y2="254.9" stroke="#000" stroke-width="1.25"/><circle cx="404.3" cy="254.9" r="4.4" fill="#000"/>
<line x1="390.3" y1="278.0" x2="418.3" y2="278.0" stroke="#f00000" stroke-width="1.25"/><circle cx="404.3" cy="278.0" r="4.4" fill="#f00000"/>
<text x="422.70" y="257.90" font-size="8.8" textLength="31.90" lengthAdjust="spacingAndGlyphs" fill="#1a1a1a" >280 mK</text>
<text x="422.90" y="280.90" font-size="8.8" textLength="20.50" lengthAdjust="spacingAndGlyphs" fill="#1a1a1a" >4.2 K</text>
<text x="546.4" y="45.8" font-size="10.4" fill="#1a1a1a">|<tspan stroke="#1a1a1a" stroke-width="0.25">Δ</tspan><tspan dx="1.0" dy="2.2" font-size="7.0">UTe</tspan><tspan dy="1.3" font-size="4.6">2</tspan><tspan dy="-3.5" font-size="10.4">|</tspan></text>
<text x="1.20" y="348.90" font-size="16" font-weight="bold" fill="#000" >c</text>
<text x="1.20" y="582.00" font-size="15.6" font-weight="bold" fill="#000" >d</text>
<rect x="0.0" y="352.2" width="190.4" height="190.30" fill="#000"/>
<g clip-path="url(#cliptexC)"><g filter="url(#texC)">
<rect x="-6" y="346.2" width="204" height="202.30" fill="#808080"/>
<ellipse cx="16.8" cy="366.8" rx="6.7" ry="9.7" fill="#fff" fill-opacity="0.62" filter="url(#blB)"/>
<ellipse cx="47.6" cy="369.6" rx="5.6" ry="8.1" fill="#fff" fill-opacity="0.62" filter="url(#blB)"/>
<ellipse cx="11.2" cy="406.1" rx="5.6" ry="8.1" fill="#fff" fill-opacity="0.62" filter="url(#blB)"/>
<ellipse cx="21.0" cy="386.4" rx="4.5" ry="6.4" fill="#fff" fill-opacity="0.62" filter="url(#blB)"/>
<ellipse cx="56.1" cy="392.0" rx="4.5" ry="6.4" fill="#fff" fill-opacity="0.62" filter="url(#blB)"/>
<ellipse cx="81.3" cy="414.5" rx="6.7" ry="9.7" fill="#fff" fill-opacity="0.62" filter="url(#blB)"/>
<ellipse cx="58.9" cy="417.3" rx="3.4" ry="4.8" fill="#fff" fill-opacity="0.62" filter="url(#blB)"/>
<ellipse cx="140.1" cy="383.6" rx="6.7" ry="9.7" fill="#fff" fill-opacity="0.62" filter="url(#blB)"/>
<ellipse cx="173.8" cy="366.8" rx="5.6" ry="8.1" fill="#fff" fill-opacity="0.62" filter="url(#blB)"/>
<ellipse cx="106.5" cy="397.6" rx="4.5" ry="6.4" fill="#fff" fill-opacity="0.62" filter="url(#blB)"/>
<ellipse cx="123.3" cy="414.5" rx="4.5" ry="6.4" fill="#fff" fill-opacity="0.62" filter="url(#blB)"/>
<ellipse cx="16.8" cy="456.5" rx="4.5" ry="6.4" fill="#fff" fill-opacity="0.62" filter="url(#blB)"/>
<ellipse cx="64.5" cy="450.9" rx="4.5" ry="6.4" fill="#fff" fill-opacity="0.62" filter="url(#blB)"/>
<ellipse cx="103.7" cy="487.3" rx="5.6" ry="8.1" fill="#fff" fill-opacity="0.62" filter="url(#blB)"/>
<ellipse cx="114.9" cy="462.1" rx="4.5" ry="6.4" fill="#fff" fill-opacity="0.62" filter="url(#blB)"/>
<ellipse cx="154.1" cy="470.5" rx="5.6" ry="8.1" fill="#fff" fill-opacity="0.62" filter="url(#blB)"/>
<ellipse cx="123.3" cy="523.8" rx="5.6" ry="8.1" fill="#fff" fill-opacity="0.62" filter="url(#blB)"/>
<ellipse cx="47.6" cy="515.4" rx="4.5" ry="6.4" fill="#fff" fill-opacity="0.62" filter="url(#blB)"/>
<ellipse cx="75.7" cy="490.1" rx="3.4" ry="4.8" fill="#fff" fill-opacity="0.62" filter="url(#blB)"/>
<ellipse cx="179.4" cy="507.0" rx="4.5" ry="6.4" fill="#fff" fill-opacity="0.62" filter="url(#blB)"/>
<ellipse cx="168.2" cy="417.3" rx="3.4" ry="4.8" fill="#fff" fill-opacity="0.62" filter="url(#blB)"/>
<ellipse cx="92.5" cy="378.0" rx="4.5" ry="6.4" fill="#fff" fill-opacity="0.62" filter="url(#blB)"/>
<ellipse cx="95.3" cy="392.0" rx="7.1" ry="9.7" fill="#000" fill-opacity="0.32" filter="url(#blB)"/>
<ellipse cx="56.1" cy="378.0" rx="4.8" ry="6.4" fill="#000" fill-opacity="0.32" filter="url(#blB)"/>
<ellipse cx="28.0" cy="422.9" rx="6.0" ry="8.1" fill="#000" fill-opacity="0.32" filter="url(#blB)"/>
<ellipse cx="98.1" cy="422.9" rx="6.0" ry="8.1" fill="#000" fill-opacity="0.32" filter="url(#blB)"/>
<ellipse cx="171.0" cy="434.1" rx="7.1" ry="9.7" fill="#000" fill-opacity="0.32" filter="url(#blB)"/>
<ellipse cx="179.4" cy="406.1" rx="4.8" ry="6.4" fill="#000" fill-opacity="0.32" filter="url(#blB)"/>
<ellipse cx="131.7" cy="453.7" rx="6.0" ry="8.1" fill="#000" fill-opacity="0.32" filter="url(#blB)"/>
<ellipse cx="44.8" cy="481.7" rx="6.0" ry="8.1" fill="#000" fill-opacity="0.32" filter="url(#blB)"/>
<ellipse cx="81.3" cy="507.0" rx="6.0" ry="8.1" fill="#000" fill-opacity="0.32" filter="url(#blB)"/>
<ellipse cx="128.9" cy="501.3" rx="6.0" ry="8.1" fill="#000" fill-opacity="0.32" filter="url(#blB)"/>
<ellipse cx="30.8" cy="394.8" rx="3.6" ry="4.8" fill="#000" fill-opacity="0.32" filter="url(#blB)"/>
<ellipse cx="151.3" cy="417.3" rx="4.8" ry="6.4" fill="#000" fill-opacity="0.32" filter="url(#blB)"/>
<ellipse cx="70.1" cy="470.5" rx="4.8" ry="6.4" fill="#000" fill-opacity="0.32" filter="url(#blB)"/>
<ellipse cx="162.6" cy="490.1" rx="4.8" ry="6.4" fill="#000" fill-opacity="0.32" filter="url(#blB)"/>
<ellipse cx="92.5" cy="464.9" rx="3.6" ry="4.8" fill="#000" fill-opacity="0.32" filter="url(#blB)"/>
<ellipse cx="8.4" cy="434.1" rx="3.6" ry="4.8" fill="#000" fill-opacity="0.32" filter="url(#blB)"/>
</g>
<rect x="1.2" y="353.7" width="187.6" height="187.20" fill="url(#patG)"/></g>
<rect x="1.0" y="588.3" width="189.4" height="190.50" fill="#000"/>
<g clip-path="url(#cliptexD)"><g filter="url(#texD)">
<rect x="-6" y="582.3" width="204" height="202.50" fill="#808080"/>
<ellipse cx="19.6" cy="608.4" rx="6.7" ry="9.7" fill="#fff" fill-opacity="0.62" filter="url(#blB)"/>
<ellipse cx="8.4" cy="597.2" rx="4.5" ry="6.4" fill="#fff" fill-opacity="0.62" filter="url(#blB)"/>
<ellipse cx="61.7" cy="625.2" rx="5.6" ry="8.1" fill="#fff" fill-opacity="0.62" filter="url(#blB)"/>
<ellipse cx="100.9" cy="614.0" rx="5.6" ry="8.1" fill="#fff" fill-opacity="0.62" filter="url(#blB)"/>
<ellipse cx="58.9" cy="653.3" rx="4.5" ry="6.4" fill="#fff" fill-opacity="0.62" filter="url(#blB)"/>
<ellipse cx="98.1" cy="661.7" rx="5.6" ry="8.1" fill="#fff" fill-opacity="0.62" filter="url(#blB)"/>
<ellipse cx="120.5" cy="656.1" rx="5.6" ry="8.1" fill="#fff" fill-opacity="0.62" filter="url(#blB)"/>
<ellipse cx="84.1" cy="653.3" rx="4.5" ry="6.4" fill="#fff" fill-opacity="0.62" filter="url(#blB)"/>
<ellipse cx="72.9" cy="692.5" rx="6.7" ry="9.7" fill="#fff" fill-opacity="0.62" filter="url(#blB)"/>
<ellipse cx="36.4" cy="703.7" rx="6.7" ry="9.7" fill="#fff" fill-opacity="0.62" filter="url(#blB)"/>
<ellipse cx="14.0" cy="684.1" rx="4.5" ry="6.4" fill="#fff" fill-opacity="0.62" filter="url(#blB)"/>
<ellipse cx="53.3" cy="740.1" rx="6.7" ry="9.7" fill="#fff" fill-opacity="0.62" filter="url(#blB)"/>
<ellipse cx="103.7" cy="731.7" rx="6.7" ry="9.7" fill="#fff" fill-opacity="0.62" filter="url(#blB)"/>
<ellipse cx="131.7" cy="765.4" rx="5.6" ry="8.1" fill="#fff" fill-opacity="0.62" filter="url(#blB)"/>
<ellipse cx="95.3" cy="754.2" rx="4.5" ry="6.4" fill="#fff" fill-opacity="0.62" filter="url(#blB)"/>
<ellipse cx="179.4" cy="600.0" rx="5.6" ry="8.1" fill="#fff" fill-opacity="0.62" filter="url(#blB)"/>
<ellipse cx="140.1" cy="622.4" rx="5.6" ry="8.1" fill="#fff" fill-opacity="0.62" filter="url(#blB)"/>
<ellipse cx="182.2" cy="712.1" rx="4.5" ry="6.4" fill="#fff" fill-opacity="0.62" filter="url(#blB)"/>
<ellipse cx="162.6" cy="678.5" rx="4.5" ry="6.4" fill="#fff" fill-opacity="0.62" filter="url(#blB)"/>
<ellipse cx="157.0" cy="636.4" rx="4.5" ry="6.4" fill="#fff" fill-opacity="0.62" filter="url(#blB)"/>
<ellipse cx="123.3" cy="720.5" rx="3.4" ry="4.8" fill="#fff" fill-opacity="0.62" filter="url(#blB)"/>
<ellipse cx="173.8" cy="757.0" rx="3.4" ry="4.8" fill="#fff" fill-opacity="0.62" filter="url(#blB)"/>
<ellipse cx="30.8" cy="658.9" rx="8.3" ry="11.3" fill="#000" fill-opacity="0.32" filter="url(#blB)"/>
<ellipse cx="16.8" cy="656.1" rx="6.0" ry="8.1" fill="#000" fill-opacity="0.32" filter="url(#blB)"/>
<ellipse cx="92.5" cy="684.1" rx="7.1" ry="9.7" fill="#000" fill-opacity="0.32" filter="url(#blB)"/>
<ellipse cx="131.7" cy="698.1" rx="8.3" ry="11.3" fill="#000" fill-opacity="0.32" filter="url(#blB)"/>
<ellipse cx="151.3" cy="661.7" rx="6.0" ry="8.1" fill="#000" fill-opacity="0.32" filter="url(#blB)"/>
<ellipse cx="173.8" cy="656.1" rx="6.0" ry="8.1" fill="#000" fill-opacity="0.32" filter="url(#blB)"/>
<ellipse cx="25.2" cy="726.1" rx="7.1" ry="9.7" fill="#000" fill-opacity="0.32" filter="url(#blB)"/>
<ellipse cx="78.5" cy="717.7" rx="4.8" ry="6.4" fill="#000" fill-opacity="0.32" filter="url(#blB)"/>
<ellipse cx="157.0" cy="737.3" rx="7.1" ry="9.7" fill="#000" fill-opacity="0.32" filter="url(#blB)"/>
<ellipse cx="117.7" cy="633.6" rx="4.8" ry="6.4" fill="#000" fill-opacity="0.32" filter="url(#blB)"/>
<ellipse cx="42.0" cy="630.8" rx="4.8" ry="6.4" fill="#000" fill-opacity="0.32" filter="url(#blB)"/>
<ellipse cx="75.7" cy="602.8" rx="4.8" ry="6.4" fill="#000" fill-opacity="0.32" filter="url(#blB)"/>
<ellipse cx="168.2" cy="619.6" rx="4.8" ry="6.4" fill="#000" fill-opacity="0.32" filter="url(#blB)"/>
<ellipse cx="70.1" cy="759.8" rx="4.8" ry="6.4" fill="#000" fill-opacity="0.32" filter="url(#blB)"/>
<ellipse cx="142.9" cy="726.1" rx="4.8" ry="6.4" fill="#000" fill-opacity="0.32" filter="url(#blB)"/>
<ellipse cx="11.2" cy="754.2" rx="4.8" ry="6.4" fill="#000" fill-opacity="0.32" filter="url(#blB)"/>
</g>
<rect x="1.2" y="589.8" width="187.6" height="187.40" fill="url(#patG)"/></g>
<rect x="1.2" y="498.4" width="41.4" height="42.6" fill="#fff" fill-opacity="0.45"/>
<rect x="147.5" y="522.6" width="41.3" height="18.4" fill="#fff" fill-opacity="0.45"/>
<text x="6.50" y="508.70" font-size="9.9" textLength="29.40" lengthAdjust="spacingAndGlyphs" fill="#1a1a1a" >10 nm</text>
<rect x="4.0" y="510.5" width="35.9" height="2.7" fill="#000"/>
<path d="M11 532 V516.8 H27" fill="none" stroke="#000" stroke-width="1.3"/>
<path d="M32.8 516.8 L26 514.3 L26 519.3 Z" fill="#000"/>
<path d="M11 537.5 L8.5 530.8 L13.5 530.8 Z" fill="#000"/>
<text x="24.00" y="528.50" font-size="9.6" textLength="9.10" lengthAdjust="spacingAndGlyphs" fill="#1a1a1a" >c*</text>
<text x="14.70" y="539.30" font-size="9.6" textLength="8.90" lengthAdjust="spacingAndGlyphs" fill="#1a1a1a" >a*</text>
<text x="157.00" y="536.50" font-size="10.2" textLength="23.90" lengthAdjust="spacingAndGlyphs" fill="#1a1a1a" >4.2 K</text>
<rect x="1.2" y="758.7" width="41.4" height="18.4" fill="#fff" fill-opacity="0.45"/>
<rect x="147.5" y="758.3" width="41.3" height="18.8" fill="#fff" fill-opacity="0.45"/>
<text x="7.70" y="769.10" font-size="9.9" textLength="29.60" lengthAdjust="spacingAndGlyphs" fill="#1a1a1a" >10 nm</text>
<rect x="4.8" y="771.6" width="35.3" height="3.2" fill="#000"/>
<text x="150.00" y="772.40" font-size="10.2" textLength="37.40" lengthAdjust="spacingAndGlyphs" fill="#1a1a1a" >280 mK</text>
<rect x="65.9" y="546.9" width="58.6" height="9.9" fill="url(#cbM)" stroke="#555" stroke-width="0.5"/>
<rect x="281.4" y="546.9" width="58.2" height="9.9" fill="url(#cbJ)" stroke="#555" stroke-width="0.5"/>
<rect x="65.9" y="784.3" width="58.6" height="9.9" fill="url(#cbM)" stroke="#555" stroke-width="0.5"/>
<rect x="281.4" y="784.3" width="58.2" height="9.9" fill="url(#cbJ)" stroke="#555" stroke-width="0.5"/>
<text x="31.50" y="556.20" font-size="10.2" textLength="28.90" lengthAdjust="spacingAndGlyphs" fill="#1a1a1a" >60 nS</text>
<text x="130.30" y="556.20" font-size="10.2" textLength="28.20" lengthAdjust="spacingAndGlyphs" fill="#1a1a1a" >85 nS</text>
<text x="80.0" y="567.9" font-size="10.2" fill="#1a1a1a" textLength="30.5" lengthAdjust="spacingAndGlyphs"><tspan font-style="italic">g</tspan>(<tspan font-weight="bold">r</tspan>, 0)</text>
<text x="27.60" y="793.20" font-size="10.2" textLength="32.10" lengthAdjust="spacingAndGlyphs" fill="#1a1a1a" >150 nS</text>
<text x="131.20" y="793.20" font-size="10.2" textLength="34.20" lengthAdjust="spacingAndGlyphs" fill="#1a1a1a" >270 nS</text>
<text x="81.0" y="805.6" font-size="10.2" fill="#1a1a1a" textLength="29.5" lengthAdjust="spacingAndGlyphs"><tspan font-style="italic">a</tspan>(<tspan font-weight="bold">r</tspan>, 0)</text>
<text x="253.70" y="556.20" font-size="10.2" textLength="21.90" lengthAdjust="spacingAndGlyphs" fill="#1a1a1a" >0 nS</text>
<text x="346.20" y="556.20" font-size="10.2" textLength="43.40" lengthAdjust="spacingAndGlyphs" fill="#1a1a1a" >0.014 nS</text>
<text x="293.5" y="567.9" font-size="10.2" fill="#1a1a1a" textLength="32.3" lengthAdjust="spacingAndGlyphs"><tspan font-style="italic">g</tspan>(<tspan font-weight="bold">q</tspan>, 0)</text>
<text x="253.70" y="793.20" font-size="10.2" textLength="21.90" lengthAdjust="spacingAndGlyphs" fill="#1a1a1a" >0 nS</text>
<text x="345.60" y="793.20" font-size="10.2" textLength="38.30" lengthAdjust="spacingAndGlyphs" fill="#1a1a1a" >0.09 nS</text>
<text x="296.7" y="805.6" font-size="10.2" fill="#1a1a1a" textLength="31.3" lengthAdjust="spacingAndGlyphs"><tspan font-style="italic">a</tspan>(<tspan font-weight="bold">q</tspan>, 0)</text>
<rect x="215.4" y="352.2" width="191.00" height="190.30" fill="#000"/>
<g clip-path="url(#clipjetC)"><g filter="url(#jetC)">
<rect x="211.9" y="348.7" width="198.00" height="197.20" fill="#000"/>
<polygon points="213.9,438.4 230.9,438.4 240.9,437.4 250.9,434.4 260.9,427.4 270.9,423.4 280.9,426.4 290.9,431.4 300.9,434.4 310.9,435.4 320.9,434.4 330.9,431.4 340.9,426.4 350.9,423.4 360.9,427.4 370.9,434.4 380.9,437.4 390.9,438.4 407.9,438.4 407.9,456.4 390.9,456.4 380.9,457.4 370.9,460.4 360.9,467.4 350.9,471.4 340.9,468.4 330.9,463.4 320.9,460.4 310.9,459.4 300.9,460.4 290.9,463.4 280.9,468.4 270.9,471.4 260.9,467.4 250.9,460.4 240.9,457.4 230.9,456.4 213.9,456.4" fill="#fff" fill-opacity="0.27" filter="url(#bl4)"/>
<polygon points="213.9,442.4 240.9,442.4 255.9,439.4 268.9,435.4 280.9,436.4 295.9,439.4 310.9,440.4 325.9,439.4 340.9,436.4 352.9,435.4 365.9,439.4 380.9,442.4 407.9,442.4 407.9,452.4 380.9,452.4 365.9,455.4 352.9,459.4 340.9,458.4 325.9,455.4 310.9,454.4 295.9,455.4 280.9,458.4 268.9,459.4 255.9,455.4 240.9,452.4 213.9,452.4" fill="#fff" fill-opacity="0.16" filter="url(#bl2)"/>
<ellipse cx="310.9" cy="447.4" rx="16.0" ry="6.8" fill="#fff" fill-opacity="0.45" filter="url(#bl2)"/>
<ellipse cx="310.9" cy="447.4" rx="13.3" ry="4.6" fill="#fff" fill-opacity="0.9" filter="url(#bl15)"/>
<ellipse cx="310.9" cy="447.4" rx="12.5" ry="3.8" fill="#fff"/>
<ellipse cx="221.9" cy="447.4" rx="16.5" ry="7.2" fill="#fff" fill-opacity="0.45" filter="url(#bl2)"/>
<ellipse cx="221.9" cy="447.4" rx="13.8" ry="5.0" fill="#fff" fill-opacity="0.9" filter="url(#bl15)"/>
<ellipse cx="221.9" cy="447.4" rx="13.0" ry="4.2" fill="#fff"/>
<ellipse cx="398.9" cy="447.4" rx="15.5" ry="7.2" fill="#fff" fill-opacity="0.45" filter="url(#bl2)"/>
<ellipse cx="398.9" cy="447.4" rx="12.8" ry="5.0" fill="#fff" fill-opacity="0.9" filter="url(#bl15)"/>
<ellipse cx="398.9" cy="447.4" rx="12.0" ry="4.2" fill="#fff"/>
<ellipse cx="268.6" cy="380.9" rx="7.1" ry="5.8" fill="#fff" fill-opacity="0.1" filter="url(#bl2)"/>
<ellipse cx="268.6" cy="380.9" rx="5.4" ry="4.4" fill="#fff" fill-opacity="0.3" filter="url(#bl15)"/>
<ellipse cx="268.6" cy="380.9" rx="1.6" ry="1.6" fill="#fff" fill-opacity="0.24"/>
<ellipse cx="228.5" cy="360.9" rx="5.8" ry="4.2" fill="#fff" fill-opacity="0.12" filter="url(#bl15)"/>
<ellipse cx="228.5" cy="360.9" rx="2.0" ry="1.4" fill="#fff" fill-opacity="0.2"/>
<ellipse cx="268.6" cy="513.9" rx="7.1" ry="5.8" fill="#fff" fill-opacity="0.1" filter="url(#bl2)"/>
<ellipse cx="268.6" cy="513.9" rx="5.4" ry="4.4" fill="#fff" fill-opacity="0.3" filter="url(#bl15)"/>
<ellipse cx="268.6" cy="513.9" rx="1.6" ry="1.6" fill="#fff" fill-opacity="0.24"/>
<ellipse cx="228.5" cy="533.9" rx="5.8" ry="4.2" fill="#fff" fill-opacity="0.12" filter="url(#bl15)"/>
<ellipse cx="228.5" cy="533.9" rx="2.0" ry="1.4" fill="#fff" fill-opacity="0.2"/>
<ellipse cx="310.9" cy="360.4" rx="6.8" ry="4.2" fill="#fff" fill-opacity="0.12" filter="url(#bl15)"/>
<ellipse cx="310.9" cy="360.4" rx="3.0" ry="1.4" fill="#fff" fill-opacity="0.2"/>
<ellipse cx="353.2" cy="380.9" rx="7.1" ry="5.8" fill="#fff" fill-opacity="0.1" filter="url(#bl2)"/>
<ellipse cx="353.2" cy="380.9" rx="5.4" ry="4.4" fill="#fff" fill-opacity="0.3" filter="url(#bl15)"/>
<ellipse cx="353.2" cy="380.9" rx="1.6" ry="1.6" fill="#fff" fill-opacity="0.24"/>
<ellipse cx="393.3" cy="360.9" rx="5.8" ry="4.2" fill="#fff" fill-opacity="0.12" filter="url(#bl15)"/>
<ellipse cx="393.3" cy="360.9" rx="2.0" ry="1.4" fill="#fff" fill-opacity="0.2"/>
<ellipse cx="353.2" cy="513.9" rx="7.1" ry="5.8" fill="#fff" fill-opacity="0.1" filter="url(#bl2)"/>
<ellipse cx="353.2" cy="513.9" rx="5.4" ry="4.4" fill="#fff" fill-opacity="0.3" filter="url(#bl15)"/>
<ellipse cx="353.2" cy="513.9" rx="1.6" ry="1.6" fill="#fff" fill-opacity="0.24"/>
<ellipse cx="393.3" cy="533.9" rx="5.8" ry="4.2" fill="#fff" fill-opacity="0.12" filter="url(#bl15)"/>
<ellipse cx="393.3" cy="533.9" rx="2.0" ry="1.4" fill="#fff" fill-opacity="0.2"/>
<ellipse cx="310.9" cy="534.4" rx="6.8" ry="4.2" fill="#fff" fill-opacity="0.12" filter="url(#bl15)"/>
<ellipse cx="310.9" cy="534.4" rx="3.0" ry="1.4" fill="#fff" fill-opacity="0.2"/>
</g></g>
<rect x="215.4" y="588.3" width="191.00" height="190.50" fill="#000"/>
<g clip-path="url(#clipjetD)"><g filter="url(#jetD)">
<rect x="211.9" y="584.8" width="198.00" height="197.40" fill="#000"/>
<polygon points="213.9,673.2 230.9,671.2 240.9,668.2 250.9,662.2 260.9,654.2 270.9,652.2 280.9,658.2 290.9,667.2 300.9,673.2 310.9,675.2 320.9,673.2 330.9,667.2 340.9,658.2 350.9,652.2 360.9,654.2 370.9,662.2 380.9,668.2 390.9,671.2 407.9,673.2 407.9,693.2 390.9,695.2 380.9,698.2 370.9,704.2 360.9,712.2 350.9,714.2 340.9,708.2 330.9,699.2 320.9,693.2 310.9,691.2 300.9,693.2 290.9,699.2 280.9,708.2 270.9,714.2 260.9,712.2 250.9,704.2 240.9,698.2 230.9,695.2 213.9,693.2" fill="#fff" fill-opacity="0.24" filter="url(#bl4)"/>
<polygon points="213.9,676.2 230.9,676.2 250.9,675.2 270.9,674.2 290.9,676.2 310.9,677.2 330.9,676.2 350.9,674.2 370.9,675.2 390.9,676.2 407.9,676.2 407.9,690.2 390.9,690.2 370.9,691.2 350.9,692.2 330.9,690.2 310.9,689.2 290.9,690.2 270.9,692.2 250.9,691.2 230.9,690.2 213.9,690.2" fill="#fff" fill-opacity="0.13" filter="url(#bl2)"/>
<ellipse cx="306.9" cy="683.2" rx="9.0" ry="6.0" fill="#fff" fill-opacity="0.45" filter="url(#bl2)"/>
<ellipse cx="306.9" cy="683.2" rx="6.3" ry="3.8" fill="#fff" fill-opacity="0.9" filter="url(#bl15)"/>
<ellipse cx="306.9" cy="683.2" rx="5.5" ry="3.0" fill="#fff"/>
<ellipse cx="231.4" cy="683.2" rx="13.3" ry="9.2" fill="#fff" fill-opacity="0.45" filter="url(#bl2)"/>
<ellipse cx="231.4" cy="683.2" rx="10.6" ry="7.0" fill="#fff" fill-opacity="0.9" filter="url(#bl15)"/>
<ellipse cx="231.4" cy="683.2" rx="9.8" ry="6.2" fill="#fff"/>
<ellipse cx="390.4" cy="683.2" rx="13.3" ry="9.2" fill="#fff" fill-opacity="0.45" filter="url(#bl2)"/>
<ellipse cx="390.4" cy="683.2" rx="10.6" ry="7.0" fill="#fff" fill-opacity="0.9" filter="url(#bl15)"/>
<ellipse cx="390.4" cy="683.2" rx="9.8" ry="6.2" fill="#fff"/>
<ellipse cx="269.9" cy="617.7" rx="9.1" ry="6.6" fill="#fff" fill-opacity="0.2" filter="url(#bl2)"/>
<ellipse cx="269.9" cy="617.7" rx="7.4" ry="5.2" fill="#fff" fill-opacity="0.32" filter="url(#bl15)"/>
<ellipse cx="269.9" cy="617.7" rx="3.6" ry="2.4" fill="#fff" fill-opacity="0.44"/>
<ellipse cx="269.9" cy="663.9" rx="9.7" ry="6.6" fill="#fff" fill-opacity="0.14" filter="url(#bl2)"/>
<ellipse cx="269.9" cy="663.9" rx="8.0" ry="5.2" fill="#fff" fill-opacity="0.3" filter="url(#bl15)"/>
<ellipse cx="269.9" cy="663.9" rx="4.2" ry="2.4" fill="#fff" fill-opacity="0.24"/>
<ellipse cx="228.9" cy="597.7" rx="5.8" ry="4.2" fill="#fff" fill-opacity="0.12" filter="url(#bl15)"/>
<ellipse cx="228.9" cy="597.7" rx="2.0" ry="1.4" fill="#fff" fill-opacity="0.2"/>
<ellipse cx="269.9" cy="748.7" rx="9.1" ry="6.6" fill="#fff" fill-opacity="0.2" filter="url(#bl2)"/>
<ellipse cx="269.9" cy="748.7" rx="7.4" ry="5.2" fill="#fff" fill-opacity="0.32" filter="url(#bl15)"/>
<ellipse cx="269.9" cy="748.7" rx="3.6" ry="2.4" fill="#fff" fill-opacity="0.44"/>
<ellipse cx="269.9" cy="702.5" rx="9.7" ry="6.6" fill="#fff" fill-opacity="0.14" filter="url(#bl2)"/>
<ellipse cx="269.9" cy="702.5" rx="8.0" ry="5.2" fill="#fff" fill-opacity="0.3" filter="url(#bl15)"/>
<ellipse cx="269.9" cy="702.5" rx="4.2" ry="2.4" fill="#fff" fill-opacity="0.24"/>
<ellipse cx="228.9" cy="768.7" rx="5.8" ry="4.2" fill="#fff" fill-opacity="0.12" filter="url(#bl15)"/>
<ellipse cx="228.9" cy="768.7" rx="2.0" ry="1.4" fill="#fff" fill-opacity="0.2"/>
<ellipse cx="310.9" cy="597.2" rx="8.7" ry="7.0" fill="#fff" fill-opacity="0.2" filter="url(#bl2)"/>
<ellipse cx="310.9" cy="597.2" rx="7.0" ry="5.6" fill="#fff" fill-opacity="0.32" filter="url(#bl15)"/>
<ellipse cx="310.9" cy="597.2" rx="3.2" ry="2.8" fill="#fff" fill-opacity="0.33"/>
<ellipse cx="351.9" cy="617.7" rx="9.1" ry="6.6" fill="#fff" fill-opacity="0.2" filter="url(#bl2)"/>
<ellipse cx="351.9" cy="617.7" rx="7.4" ry="5.2" fill="#fff" fill-opacity="0.32" filter="url(#bl15)"/>
<ellipse cx="351.9" cy="617.7" rx="3.6" ry="2.4" fill="#fff" fill-opacity="0.44"/>
<ellipse cx="351.9" cy="663.9" rx="9.7" ry="6.6" fill="#fff" fill-opacity="0.14" filter="url(#bl2)"/>
<ellipse cx="351.9" cy="663.9" rx="8.0" ry="5.2" fill="#fff" fill-opacity="0.3" filter="url(#bl15)"/>
<ellipse cx="351.9" cy="663.9" rx="4.2" ry="2.4" fill="#fff" fill-opacity="0.24"/>
<ellipse cx="392.9" cy="597.7" rx="5.8" ry="4.2" fill="#fff" fill-opacity="0.12" filter="url(#bl15)"/>
<ellipse cx="392.9" cy="597.7" rx="2.0" ry="1.4" fill="#fff" fill-opacity="0.2"/>
<ellipse cx="351.9" cy="748.7" rx="9.1" ry="6.6" fill="#fff" fill-opacity="0.2" filter="url(#bl2)"/>
<ellipse cx="351.9" cy="748.7" rx="7.4" ry="5.2" fill="#fff" fill-opacity="0.32" filter="url(#bl15)"/>
<ellipse cx="351.9" cy="748.7" rx="3.6" ry="2.4" fill="#fff" fill-opacity="0.44"/>
<ellipse cx="351.9" cy="702.5" rx="9.7" ry="6.6" fill="#fff" fill-opacity="0.14" filter="url(#bl2)"/>
<ellipse cx="351.9" cy="702.5" rx="8.0" ry="5.2" fill="#fff" fill-opacity="0.3" filter="url(#bl15)"/>
<ellipse cx="351.9" cy="702.5" rx="4.2" ry="2.4" fill="#fff" fill-opacity="0.24"/>
<ellipse cx="392.9" cy="768.7" rx="5.8" ry="4.2" fill="#fff" fill-opacity="0.12" filter="url(#bl15)"/>
<ellipse cx="392.9" cy="768.7" rx="2.0" ry="1.4" fill="#fff" fill-opacity="0.2"/>
<ellipse cx="310.9" cy="769.2" rx="8.7" ry="7.0" fill="#fff" fill-opacity="0.2" filter="url(#bl2)"/>
<ellipse cx="310.9" cy="769.2" rx="7.0" ry="5.6" fill="#fff" fill-opacity="0.32" filter="url(#bl15)"/>
<ellipse cx="310.9" cy="769.2" rx="3.2" ry="2.8" fill="#fff" fill-opacity="0.33"/>
<ellipse cx="310.9" cy="638.7" rx="7.5" ry="7.2" fill="#fff" fill-opacity="0.12" filter="url(#bl2)"/>
<ellipse cx="310.9" cy="638.7" rx="5.8" ry="5.8" fill="#fff" fill-opacity="0.26" filter="url(#bl15)"/>
<ellipse cx="310.9" cy="638.7" rx="2.0" ry="3.0" fill="#fff" fill-opacity="0.62"/>
<ellipse cx="310.9" cy="726.2" rx="7.5" ry="8.2" fill="#fff" fill-opacity="0.1" filter="url(#bl2)"/>
<ellipse cx="310.9" cy="726.2" rx="5.8" ry="6.8" fill="#fff" fill-opacity="0.22" filter="url(#bl15)"/>
<ellipse cx="310.9" cy="726.2" rx="2.0" ry="4.0" fill="#fff" fill-opacity="0.36"/>
<ellipse cx="392.4" cy="637.7" rx="5.8" ry="4.2" fill="#fff" fill-opacity="0.1" filter="url(#bl15)"/>
<ellipse cx="392.4" cy="637.7" rx="2.0" ry="1.4" fill="#fff" fill-opacity="0.2"/>
<ellipse cx="250.5" cy="683.2" rx="6.0" ry="4.5" fill="#fff" fill-opacity="0.25" filter="url(#bl15)"/>
<ellipse cx="250.5" cy="683.2" rx="2.2" ry="1.7" fill="#fff" fill-opacity="0.52"/>
<ellipse cx="286.9" cy="683.2" rx="7.8" ry="4.5" fill="#fff" fill-opacity="0.25" filter="url(#bl15)"/>
<ellipse cx="286.9" cy="683.2" rx="4.0" ry="1.7" fill="#fff" fill-opacity="0.52"/>
<ellipse cx="298.9" cy="683.2" rx="6.2" ry="4.5" fill="#fff" fill-opacity="0.25" filter="url(#bl15)"/>
<ellipse cx="298.9" cy="683.2" rx="2.4" ry="1.7" fill="#fff" fill-opacity="0.52"/>
<ellipse cx="330.5" cy="683.2" rx="6.8" ry="4.5" fill="#fff" fill-opacity="0.25" filter="url(#bl15)"/>
<ellipse cx="330.5" cy="683.2" rx="3.0" ry="1.7" fill="#fff" fill-opacity="0.52"/>
<ellipse cx="336.9" cy="683.2" rx="5.8" ry="4.5" fill="#fff" fill-opacity="0.25" filter="url(#bl15)"/>
<ellipse cx="336.9" cy="683.2" rx="2.0" ry="1.7" fill="#fff" fill-opacity="0.52"/>
<ellipse cx="371.4" cy="683.2" rx="6.0" ry="4.5" fill="#fff" fill-opacity="0.25" filter="url(#bl15)"/>
<ellipse cx="371.4" cy="683.2" rx="2.2" ry="1.7" fill="#fff" fill-opacity="0.52"/>
</g></g>
<line x1="310.90" y1="447.40" x2="310.90" y2="368.80" stroke="#b468b4" stroke-width="1.9"/>
<path d="M310.90 363.20 L313.40 369.60 L308.40 369.60 Z" fill="#b468b4"/>
<line x1="310.90" y1="447.40" x2="346.43" y2="390.55" stroke="#b8602c" stroke-width="1.9"/>
<path d="M349.40 385.80 L348.13 392.55 L343.89 389.90 Z" fill="#b8602c"/>
<line x1="310.90" y1="447.40" x2="384.60" y2="447.40" stroke="#e27a26" stroke-width="1.9"/>
<path d="M390.20 447.40 L383.80 449.90 L383.80 444.90 Z" fill="#e27a26"/>
<line x1="310.90" y1="447.40" x2="345.07" y2="465.75" stroke="#0cf0f0" stroke-width="1.9"/>
<path d="M350.00 468.40 L343.18 467.57 L345.54 463.17 Z" fill="#0cf0f0"/>
<text x="293.50" y="374.10" font-size="11.8" font-weight="bold" fill="#fff">q<tspan dy="2.8" font-size="8.4" font-weight="normal">6</tspan></text>
<text x="353.10" y="396.20" font-size="11.8" font-weight="bold" fill="#fff">q<tspan dy="2.8" font-size="8.4" font-weight="normal">2</tspan></text>
<text x="386.00" y="466.30" font-size="11.8" font-weight="bold" fill="#fff">q<tspan dy="2.8" font-size="8.4" font-weight="normal">4</tspan></text>
<text x="334.80" y="477.40" font-size="11.8" font-weight="bold" fill="#fff">q<tspan dy="2.8" font-size="8.4" font-weight="normal">5</tspan></text>
<text x="222.4" y="490.4" font-size="10.6" fill="#fff" textLength="32.2" lengthAdjust="spacingAndGlyphs">0.4 Å<tspan dy="-4.2" font-size="6.2">−1</tspan></text>
<rect x="219.1" y="494.4" width="40.8" height="3.8" fill="#fff"/>
<path d="M224.5 531 V503.9 H253.5" fill="none" stroke="#fff" stroke-width="1.35"/>
<path d="M258.6 503.9 L252 501.4 L252 506.4 Z" fill="#fff"/>
<path d="M224.5 536.1 L222.0 529.6 L227.0 529.6 Z" fill="#fff"/>
<text x="247.4" y="513.2" font-size="10.2" fill="#fff"><tspan font-style="italic">q</tspan><tspan dy="2.2" font-size="6.4">c*</tspan></text>
<text x="228.5" y="531.4" font-size="10.2" fill="#fff"><tspan font-style="italic">q</tspan><tspan dy="2.2" font-size="6.4">a*</tspan></text>
<text x="373.10" y="535.00" font-size="10.2" textLength="24.00" lengthAdjust="spacingAndGlyphs" fill="#fff" >4.2 K</text>
<line x1="310.90" y1="683.20" x2="310.90" y2="603.80" stroke="#b468b4" stroke-width="1.9"/>
<path d="M310.90 598.20 L313.40 604.60 L308.40 604.60 Z" fill="#b468b4"/>
<line x1="310.90" y1="683.20" x2="310.90" y2="646.20" stroke="#e8201a" stroke-width="1.9"/>
<path d="M310.90 640.60 L313.40 647.00 L308.40 647.00 Z" fill="#e8201a"/>
<line x1="310.90" y1="683.20" x2="346.46" y2="625.57" stroke="#b8602c" stroke-width="1.9"/>
<path d="M349.40 620.80 L348.17 627.56 L343.91 624.93 Z" fill="#b8602c"/>
<line x1="310.90" y1="683.20" x2="384.70" y2="642.41" stroke="#52ee82" stroke-width="1.9"/>
<path d="M389.60 639.70 L385.21 644.98 L382.79 640.61 Z" fill="#52ee82"/>
<line x1="310.90" y1="683.20" x2="384.60" y2="683.20" stroke="#e27a26" stroke-width="1.9"/>
<path d="M390.20 683.20 L383.80 685.70 L383.80 680.70 Z" fill="#e27a26"/>
<line x1="310.90" y1="683.20" x2="345.02" y2="700.83" stroke="#0cf0f0" stroke-width="1.9"/>
<path d="M350.00 703.40 L343.17 702.68 L345.46 698.24 Z" fill="#0cf0f0"/>
<text x="293.00" y="609.90" font-size="11.8" font-weight="bold" fill="#fff">q<tspan dy="2.8" font-size="8.4" font-weight="normal">6</tspan></text>
<text x="353.10" y="631.40" font-size="11.8" font-weight="bold" fill="#fff">q<tspan dy="2.8" font-size="8.4" font-weight="normal">2</tspan></text>
<text x="293.80" y="651.50" font-size="11.8" font-weight="bold" fill="#fff">q<tspan dy="2.8" font-size="8.4" font-weight="normal">1</tspan></text>
<text x="384.00" y="659.20" font-size="11.8" font-weight="bold" fill="#fff">q<tspan dy="2.8" font-size="8.4" font-weight="normal">3</tspan></text>
<text x="384.10" y="702.40" font-size="11.8" font-weight="bold" fill="#fff">q<tspan dy="2.8" font-size="8.4" font-weight="normal">4</tspan></text>
<text x="334.80" y="713.10" font-size="11.8" font-weight="bold" fill="#fff">q<tspan dy="2.8" font-size="8.4" font-weight="normal">5</tspan></text>
<line x1="220.20" y1="703.40" x2="242.40" y2="703.40" stroke="#fff" stroke-width="2.0"/>
<path d="M248.60 703.40 L241.60 706.30 L241.60 700.50 Z" fill="#fff"/>
<line x1="220.20" y1="730.10" x2="242.40" y2="730.10" stroke="#fff" stroke-width="2.0"/>
<path d="M248.60 730.10 L241.60 733.00 L241.60 727.20 Z" fill="#fff"/>
<line x1="220.20" y1="748.90" x2="242.40" y2="748.90" stroke="#fff" stroke-width="2.0"/>
<path d="M248.60 748.90 L241.60 751.80 L241.60 746.00 Z" fill="#fff"/>
<line x1="220.20" y1="768.40" x2="242.40" y2="768.40" stroke="#fff" stroke-width="2.0"/>
<path d="M248.60 768.40 L241.60 771.30 L241.60 765.50 Z" fill="#fff"/>
<text x="365.10" y="772.40" font-size="10.2" textLength="37.00" lengthAdjust="spacingAndGlyphs" fill="#fff" >280 mK</text>
<text x="427.40" y="348.90" font-size="16" font-weight="bold" fill="#000" >e</text>
<line x1="445.7" y1="352.6" x2="445.7" y2="778.5" stroke="#0cbcf8" stroke-width="1.55" stroke-dasharray="4.1 4.24" stroke-dashoffset="2.0"/>
<line x1="497.2" y1="352.6" x2="497.2" y2="778.5" stroke="#0cbcf8" stroke-width="1.55" stroke-dasharray="4.1 4.24" stroke-dashoffset="2.0"/>
<line x1="547.8" y1="352.6" x2="547.8" y2="778.5" stroke="#0cbcf8" stroke-width="1.55" stroke-dasharray="4.1 4.24" stroke-dashoffset="2.0"/>
<line x1="597.9" y1="352.6" x2="597.9" y2="778.5" stroke="#0cbcf8" stroke-width="1.55" stroke-dasharray="4.1 4.24" stroke-dashoffset="2.0"/>
<line x1="650.4" y1="352.6" x2="650.4" y2="778.5" stroke="#0cbcf8" stroke-width="1.55" stroke-dasharray="4.1 4.24" stroke-dashoffset="2.0"/>
<clipPath id="clipE"><rect x="428.0" y="353" width="238.3" height="425"/></clipPath>
<g clip-path="url(#clipE)">
<path d="M427.88 470.22C428.16 470.31 428.65 471.31 429.63 470.75C430.61 470.19 432.75 468.63 434.01 466.72C435.27 464.81 436.39 461.50 437.51 458.84C438.63 456.17 439.75 452.60 441.02 450.08C442.28 447.55 444.41 443.77 445.40 443.07C446.38 442.37 446.45 444.02 447.15 445.70C447.85 447.38 448.79 450.92 449.78 453.58C450.76 456.24 452.16 460.52 453.28 462.34C454.40 464.16 455.38 464.13 456.78 464.97C458.18 465.81 460.36 467.18 462.04 467.60C463.72 468.02 465.61 467.88 467.29 467.60C468.98 467.32 470.87 466.12 472.55 465.84C474.23 465.56 476.40 465.98 477.81 465.84C479.21 465.70 480.33 465.67 481.31 464.97C482.29 464.27 483.10 462.31 483.94 461.46C484.78 460.62 485.72 459.57 486.57 459.71C487.41 459.85 488.35 461.50 489.19 462.34C490.03 463.18 490.56 464.55 491.82 464.97C493.08 465.39 495.40 465.39 497.08 464.97C498.76 464.55 500.93 462.48 502.33 462.34C503.73 462.20 504.72 463.81 505.84 464.09C506.96 464.37 508.22 464.37 509.34 464.09C510.46 463.81 511.58 463.18 512.84 462.34C514.11 461.50 515.96 459.26 517.22 458.84C518.49 458.42 519.47 459.15 520.73 459.71C521.99 460.27 523.85 461.78 525.11 462.34C526.37 462.90 527.63 463.78 528.61 463.22C529.59 462.66 530.40 460.94 531.24 458.84C532.08 456.73 533.03 452.32 533.87 450.08C534.71 447.83 535.79 446.22 536.50 444.82C537.20 443.42 537.69 443.28 538.25 441.32C538.81 439.36 539.44 436.20 540.00 432.56C540.56 428.91 541.19 423.31 541.75 418.54C542.31 413.78 542.94 406.84 543.50 402.78C544.06 398.71 544.70 395.24 545.26 393.14C545.81 391.04 546.44 390.06 547.00 389.64C547.56 389.22 548.19 388.69 548.75 390.51C549.31 392.33 549.94 396.82 550.50 401.02C551.06 405.23 551.64 411.46 552.26 416.79C552.87 422.12 553.66 430.11 554.36 434.31C555.06 438.51 555.85 440.83 556.64 443.07C557.42 445.31 558.42 446.36 559.26 448.33C560.10 450.29 561.05 453.09 561.89 455.33C562.73 457.58 563.54 461.00 564.52 462.34C565.50 463.69 566.76 463.97 568.02 463.74C569.28 463.52 571.00 461.72 572.40 460.94C573.80 460.15 575.52 458.89 576.78 458.84C578.04 458.78 579.17 459.89 580.29 460.59C581.41 461.29 582.81 462.66 583.79 463.22C584.77 463.78 585.44 464.01 586.42 464.09C587.40 464.18 588.80 463.97 589.92 463.74C591.04 463.52 592.30 462.49 593.43 462.69C594.55 462.89 595.39 464.60 596.93 464.97C598.47 465.33 601.52 465.67 603.06 464.97C604.60 464.27 605.67 461.35 606.57 460.59C607.46 459.83 607.97 459.82 608.67 460.24C609.37 460.66 610.16 462.38 610.95 463.22C611.73 464.06 612.31 465.02 613.57 465.49C614.83 465.97 617.15 466.00 618.83 466.19C620.51 466.39 622.40 466.50 624.08 466.72C625.77 466.94 627.66 467.60 629.34 467.60C631.02 467.60 633.05 467.28 634.60 466.72C636.14 466.16 637.85 465.21 638.98 464.09C640.10 462.97 640.76 461.67 641.60 459.71C642.44 457.75 643.45 454.07 644.23 451.83C645.02 449.59 645.81 446.96 646.51 445.70C647.21 444.44 647.85 443.67 648.61 443.95C649.37 444.23 650.40 445.91 651.24 447.45C652.08 448.99 653.03 451.48 653.87 453.58C654.71 455.68 655.65 458.63 656.50 460.59C657.34 462.55 658.14 464.58 659.12 465.84C660.10 467.11 661.51 467.63 662.63 468.47C663.75 469.31 665.57 470.68 666.13 471.10" fill="none" stroke="#1338d8" stroke-width="1.6" stroke-linejoin="round" stroke-linecap="round"/>
<path d="M427.88 461.46C428.30 461.04 429.66 459.40 430.50 458.84C431.34 458.28 432.29 459.36 433.13 457.96C433.97 456.56 434.92 451.76 435.76 450.08C436.60 448.40 437.41 447.31 438.39 447.45C439.37 447.59 440.91 451.37 441.89 450.95C442.87 450.53 443.76 446.50 444.52 444.82C445.28 443.14 445.92 440.58 446.62 440.44C447.32 440.30 448.11 442.12 448.90 443.95C449.68 445.77 450.83 449.45 451.53 451.83C452.23 454.21 452.58 456.73 453.28 458.84C453.98 460.94 455.07 463.79 455.91 464.97C456.75 466.15 457.41 466.33 458.53 466.19C459.66 466.05 461.65 464.01 462.91 464.09C464.18 464.18 465.30 466.30 466.42 466.72C467.54 467.14 468.80 466.92 469.92 466.72C471.04 466.52 472.44 465.63 473.43 465.49C474.41 465.35 475.07 466.57 476.05 465.84C477.04 465.12 478.44 461.64 479.56 460.94C480.68 460.24 481.80 461.02 483.06 461.46C484.32 461.91 486.18 463.46 487.44 463.74C488.70 464.02 489.82 463.58 490.95 463.22C492.07 462.85 493.47 461.18 494.45 461.46C495.43 461.74 496.10 464.97 497.08 464.97C498.06 464.97 499.60 462.59 500.58 461.46C501.56 460.34 502.37 458.44 503.21 457.96C504.05 457.48 505.14 458.77 505.84 458.49C506.54 458.21 506.89 456.01 507.59 456.21C508.29 456.41 509.38 458.51 510.22 459.71C511.06 460.92 511.86 463.32 512.84 463.74C513.83 464.16 515.23 462.70 516.35 462.34C517.47 461.98 518.87 461.24 519.85 461.46C520.83 461.69 521.36 463.32 522.48 463.74C523.60 464.16 525.60 464.46 526.86 464.09C528.12 463.73 529.24 461.60 530.36 461.46C531.48 461.32 532.80 462.52 533.87 463.22C534.93 463.92 536.18 466.26 537.02 465.84C537.86 465.42 538.51 462.83 539.12 460.59C539.74 458.35 540.31 454.07 540.88 451.83C541.44 449.59 542.07 447.64 542.63 446.57C543.19 445.51 543.68 445.17 544.38 445.17C545.08 445.17 546.02 446.57 547.00 446.57C547.98 446.57 549.52 444.75 550.50 445.17C551.48 445.59 552.35 447.30 553.13 449.20C553.92 451.11 554.71 454.48 555.41 457.08C556.11 459.69 556.75 464.37 557.51 465.49C558.27 466.62 559.16 464.74 560.14 464.09C561.12 463.45 562.66 461.74 563.64 461.46C564.62 461.18 565.29 461.98 566.27 462.34C567.25 462.70 568.65 463.88 569.78 463.74C570.90 463.60 572.16 461.46 573.28 461.46C574.40 461.46 575.52 463.38 576.78 463.74C578.04 464.11 580.04 464.39 581.16 463.74C582.28 463.10 582.87 460.92 583.79 459.71C584.72 458.51 585.96 456.35 586.94 456.21C587.93 456.07 588.97 458.47 589.92 458.84C590.88 459.20 592.06 457.93 592.90 458.49C593.74 459.05 594.39 461.30 595.18 462.34C595.96 463.38 596.82 464.97 597.81 464.97C598.79 464.97 600.33 462.62 601.31 462.34C602.29 462.06 602.96 463.22 603.94 463.22C604.92 463.22 606.46 462.62 607.44 462.34C608.42 462.06 609.09 461.74 610.07 461.46C611.05 461.18 612.59 460.17 613.57 460.59C614.55 461.01 615.36 463.25 616.20 464.09C617.04 464.93 617.85 465.62 618.83 465.84C619.81 466.07 621.21 465.21 622.33 465.49C623.45 465.77 624.72 467.54 625.84 467.60C626.96 467.65 628.22 466.35 629.34 465.84C630.46 465.34 631.72 464.44 632.84 464.44C633.97 464.44 635.23 465.96 636.35 465.84C637.47 465.73 638.87 465.14 639.85 463.74C640.83 462.34 641.64 459.83 642.48 457.08C643.32 454.34 644.18 449.15 645.11 446.57C646.03 443.99 647.42 441.25 648.26 440.97C649.10 440.69 649.61 443.22 650.36 444.82C651.12 446.42 652.21 450.39 652.99 450.95C653.78 451.51 654.57 448.89 655.27 448.33C655.97 447.76 656.61 446.47 657.37 447.45C658.13 448.43 659.16 452.49 660.00 454.46C660.84 456.42 661.65 458.68 662.63 459.71C663.61 460.75 665.57 460.74 666.13 460.94" fill="none" stroke="#f7a81b" stroke-width="1.6" stroke-linejoin="round" stroke-linecap="round"/>
<path d="M427.88 561.98C428.30 562.12 429.52 562.15 430.50 562.85C431.48 563.55 433.03 566.22 434.01 566.36C434.99 566.50 435.79 565.27 436.64 563.73C437.48 562.19 438.42 558.68 439.26 556.72C440.10 554.76 441.05 552.45 441.89 551.46C442.73 550.48 443.68 550.31 444.52 550.59C445.36 550.87 446.17 552.38 447.15 553.22C448.13 554.06 449.53 555.14 450.65 555.84C451.77 556.55 453.03 557.32 454.15 557.60C455.28 557.88 456.54 558.30 457.66 557.60C458.78 556.90 460.04 554.62 461.16 553.22C462.28 551.81 463.55 549.40 464.67 548.84C465.79 548.28 467.19 549.71 468.17 549.71C469.15 549.71 469.96 549.40 470.80 548.84C471.64 548.28 472.59 546.83 473.43 546.21C474.27 545.59 475.21 544.90 476.05 544.98C476.89 545.07 477.84 546.82 478.68 546.73C479.52 546.65 480.33 545.52 481.31 544.46C482.29 543.39 483.83 542.46 484.81 540.08C485.79 537.69 486.74 533.49 487.44 529.57C488.14 525.64 488.63 520.04 489.19 515.55C489.75 511.07 490.30 505.60 490.95 501.53C491.59 497.47 492.47 493.23 493.22 490.15C493.98 487.06 494.92 482.82 495.68 482.26C496.43 481.70 497.22 484.40 497.95 486.64C498.68 488.89 499.53 492.21 500.23 496.28C500.93 500.34 501.66 507.28 502.33 512.05C503.01 516.81 503.73 522.00 504.44 526.06C505.14 530.13 505.93 534.93 506.71 537.45C507.50 539.97 508.36 540.43 509.34 541.83C510.32 543.23 511.86 545.09 512.84 546.21C513.83 547.33 514.49 548.70 515.47 548.84C516.45 548.98 517.85 547.79 518.98 547.08C520.10 546.38 521.36 545.02 522.48 544.46C523.60 543.90 525.00 543.44 525.98 543.58C526.96 543.72 527.63 544.49 528.61 545.33C529.59 546.17 530.99 548.22 532.12 548.84C533.24 549.45 534.50 548.63 535.62 549.19C536.74 549.75 538.00 551.50 539.12 552.34C540.24 553.18 541.37 554.39 542.63 554.44C543.89 554.50 545.88 552.80 547.00 552.69C548.12 552.58 548.65 553.38 549.63 553.74C550.61 554.11 552.01 555.19 553.13 554.97C554.25 554.74 555.51 553.32 556.64 552.34C557.76 551.36 559.02 549.40 560.14 548.84C561.26 548.28 562.66 549.34 563.64 548.84C564.62 548.33 565.43 546.58 566.27 545.68C567.11 544.79 567.78 543.43 568.90 543.23C570.02 543.03 572.02 543.84 573.28 544.46C574.54 545.07 575.80 546.33 576.78 547.08C577.76 547.84 578.57 549.33 579.41 549.19C580.25 549.05 581.06 547.39 582.04 546.21C583.02 545.03 584.65 542.67 585.54 541.83C586.44 540.99 586.94 542.92 587.64 540.95C588.35 538.99 589.19 533.91 589.92 529.57C590.65 525.22 591.50 518.84 592.20 513.80C592.90 508.75 593.63 501.96 594.30 498.03C594.97 494.11 595.62 491.85 596.40 489.27C597.19 486.69 598.42 482.19 599.21 481.91C599.99 481.63 600.64 484.80 601.31 487.52C601.98 490.24 602.71 494.70 603.41 498.91C604.11 503.11 605.04 509.45 605.69 513.80C606.33 518.14 606.88 522.42 607.44 526.06C608.00 529.71 608.55 533.77 609.19 536.57C609.84 539.38 610.63 542.04 611.47 543.58C612.31 545.12 613.41 545.98 614.45 546.21C615.49 546.43 616.83 544.98 617.95 544.98C619.07 544.98 620.34 545.45 621.46 546.21C622.58 546.97 623.98 549.01 624.96 549.71C625.94 550.41 626.61 550.87 627.59 550.59C628.57 550.31 630.11 547.82 631.09 547.96C632.07 548.10 632.88 550.20 633.72 551.46C634.56 552.73 635.37 554.86 636.35 555.84C637.33 556.83 638.73 557.46 639.85 557.60C640.97 557.74 642.23 557.42 643.36 556.72C644.48 556.02 645.74 554.20 646.86 553.22C647.98 552.24 649.38 550.95 650.36 550.59C651.34 550.22 652.15 550.10 652.99 550.94C653.83 551.78 654.78 553.94 655.62 555.84C656.46 557.75 657.41 561.17 658.25 562.85C659.09 564.53 660.03 565.94 660.88 566.36C661.72 566.78 662.58 566.32 663.50 565.48C664.43 564.64 666.15 561.80 666.66 561.10" fill="none" stroke="#1338d8" stroke-width="1.6" stroke-linejoin="round" stroke-linecap="round"/>
<path d="M427.88 563.73C428.30 563.31 429.66 561.94 430.50 561.10C431.34 560.26 432.29 558.47 433.13 558.47C433.97 558.47 434.92 560.54 435.76 561.10C436.60 561.66 437.55 562.26 438.39 561.98C439.23 561.70 440.03 559.21 441.02 559.35C442.00 559.49 443.40 562.57 444.52 562.85C445.64 563.13 446.90 561.60 448.02 561.10C449.14 560.60 450.41 560.12 451.53 559.70C452.65 559.28 454.05 558.11 455.03 558.47C456.01 558.84 456.96 561.14 457.66 561.98C458.36 562.82 458.71 564.15 459.41 563.73C460.11 563.31 461.28 560.47 462.04 559.35C462.80 558.23 463.36 556.66 464.14 556.72C464.93 556.78 466.16 559.56 466.94 559.70C467.73 559.84 468.29 558.49 469.05 557.60C469.80 556.70 470.89 554.93 471.67 554.09C472.46 553.25 473.25 552.20 473.95 552.34C474.65 552.48 475.30 555.53 476.05 554.97C476.81 554.41 477.84 550.52 478.68 548.84C479.52 547.15 480.55 545.30 481.31 544.46C482.07 543.62 482.71 544.84 483.41 543.58C484.11 542.32 484.90 539.38 485.69 536.57C486.47 533.77 487.56 528.02 488.32 526.06C489.07 524.10 489.72 526.83 490.42 524.31C491.12 521.79 492.05 514.78 492.70 510.29C493.34 505.81 493.89 500.20 494.45 496.28C495.01 492.35 495.64 485.49 496.20 485.77C496.76 486.05 497.39 492.70 497.95 498.03C498.51 503.36 499.14 513.17 499.70 519.05C500.27 524.94 500.76 530.62 501.46 534.82C502.16 539.03 503.24 542.53 504.08 545.33C504.93 548.14 505.87 550.52 506.71 552.34C507.55 554.16 508.36 555.60 509.34 556.72C510.32 557.84 511.58 559.07 512.84 559.35C514.11 559.63 516.10 558.42 517.22 558.47C518.35 558.53 519.01 559.70 519.85 559.70C520.69 559.70 521.64 558.25 522.48 558.47C523.32 558.70 524.27 560.26 525.11 561.10C525.95 561.94 526.89 563.73 527.74 563.73C528.58 563.73 529.52 562.31 530.36 561.10C531.20 559.89 532.01 557.04 532.99 556.19C533.97 555.35 535.51 555.34 536.50 555.84C537.48 556.35 538.28 558.51 539.12 559.35C539.96 560.19 540.91 560.96 541.75 561.10C542.59 561.24 543.54 560.08 544.38 560.22C545.22 560.36 546.02 561.98 547.00 561.98C547.98 561.98 549.38 560.36 550.50 560.22C551.63 560.08 553.03 561.52 554.01 561.10C554.99 560.68 555.79 558.44 556.64 557.60C557.48 556.76 558.42 556.07 559.26 555.84C560.10 555.62 561.05 555.49 561.89 556.19C562.73 556.90 563.54 559.02 564.52 560.22C565.50 561.43 566.90 563.73 568.02 563.73C569.14 563.73 570.55 561.07 571.53 560.22C572.51 559.38 573.31 558.56 574.15 558.47C575.00 558.39 575.80 559.70 576.78 559.70C577.76 559.70 579.17 558.67 580.29 558.47C581.41 558.28 582.67 559.17 583.79 558.47C584.91 557.77 586.31 555.63 587.29 554.09C588.28 552.55 589.14 551.08 589.92 548.84C590.71 546.59 591.50 543.72 592.20 540.08C592.90 536.43 593.69 530.83 594.30 526.06C594.92 521.30 595.49 515.62 596.05 510.29C596.61 504.97 597.30 496.84 597.81 492.78C598.31 488.71 598.70 484.61 599.21 484.89C599.71 485.17 600.40 490.46 600.96 494.53C601.52 498.59 602.15 505.53 602.71 510.29C603.27 515.06 603.85 521.79 604.46 524.31C605.08 526.83 605.95 524.66 606.57 526.06C607.18 527.46 607.62 530.83 608.32 533.07C609.02 535.31 610.16 538.26 610.95 540.08C611.73 541.90 612.38 543.20 613.22 544.46C614.06 545.72 615.16 546.14 616.20 547.96C617.24 549.78 618.72 555.14 619.70 555.84C620.69 556.55 621.49 552.62 622.33 552.34C623.17 552.06 623.98 552.97 624.96 554.09C625.94 555.21 627.48 558.93 628.46 559.35C629.45 559.77 630.25 556.44 631.09 556.72C631.93 557.00 632.88 559.98 633.72 561.10C634.56 562.22 635.51 563.95 636.35 563.73C637.19 563.50 638.00 560.40 638.98 559.70C639.96 559.00 641.36 559.26 642.48 559.35C643.60 559.43 644.72 559.52 645.98 560.22C647.25 560.93 649.10 563.73 650.36 563.73C651.63 563.73 652.75 560.36 653.87 560.22C654.99 560.08 656.39 562.71 657.37 562.85C658.35 562.99 659.16 561.72 660.00 561.10C660.84 560.48 661.56 558.44 662.63 559.00C663.69 559.56 666.01 563.71 666.66 564.60" fill="none" stroke="#f7a81b" stroke-width="1.6" stroke-linejoin="round" stroke-linecap="round"/>
<path d="M427.88 646.21C428.44 646.21 430.40 645.84 431.38 646.21C432.36 646.57 432.89 648.21 434.01 648.49C435.13 648.77 437.41 649.31 438.39 647.96C439.37 646.62 439.58 642.88 440.14 640.08C440.70 637.27 441.19 632.68 441.89 630.44C442.59 628.20 443.76 626.34 444.52 626.06C445.28 625.78 446.00 627.01 446.62 628.69C447.24 630.37 447.73 634.33 448.37 636.57C449.02 638.82 449.87 641.53 450.65 642.70C451.44 643.88 452.44 643.93 453.28 643.93C454.12 643.93 455.07 643.74 455.91 642.70C456.75 641.67 457.69 638.01 458.53 637.45C459.38 636.89 460.46 638.92 461.16 639.20C461.86 639.48 462.21 638.36 462.91 639.20C463.62 640.04 464.70 643.34 465.54 644.46C466.38 645.58 467.33 646.07 468.17 646.21C469.01 646.35 469.82 646.17 470.80 645.33C471.78 644.49 473.32 642.07 474.30 640.95C475.28 639.83 476.09 638.33 476.93 638.33C477.77 638.33 478.72 639.97 479.56 640.95C480.40 641.93 481.34 643.53 482.19 644.46C483.03 645.38 483.83 646.45 484.81 646.73C485.79 647.01 487.20 646.57 488.32 646.21C489.44 645.84 490.84 644.60 491.82 644.46C492.80 644.32 493.61 644.77 494.45 645.33C495.29 645.89 496.10 648.10 497.08 647.96C498.06 647.82 499.46 645.44 500.58 644.46C501.70 643.48 503.10 642.81 504.08 641.83C505.07 640.85 505.73 639.87 506.71 638.33C507.69 636.78 509.10 633.45 510.22 632.19C511.34 630.93 512.74 631.00 513.72 630.44C514.70 629.88 515.51 628.69 516.35 628.69C517.19 628.69 518.14 629.32 518.98 630.44C519.82 631.56 520.76 634.21 521.60 635.70C522.44 637.18 523.25 638.80 524.23 639.73C525.21 640.65 526.75 641.65 527.74 641.48C528.72 641.31 529.38 638.90 530.36 638.68C531.34 638.45 532.89 639.63 533.87 640.08C534.85 640.53 535.65 642.32 536.50 641.48C537.34 640.64 538.37 638.13 539.12 634.82C539.88 631.51 540.67 625.57 541.23 620.81C541.79 616.04 542.12 609.66 542.63 605.04C543.13 600.41 543.68 594.56 544.38 591.90C545.08 589.24 546.30 588.68 547.00 588.40C547.70 588.11 548.19 587.48 548.75 590.15C549.31 592.81 549.94 600.13 550.50 605.04C551.06 609.94 551.64 616.04 552.26 620.81C552.87 625.57 553.66 631.46 554.36 634.82C555.06 638.19 555.85 640.99 556.64 641.83C557.42 642.67 558.28 640.58 559.26 640.08C560.24 639.57 561.79 638.54 562.77 638.68C563.75 638.82 564.55 640.67 565.40 640.95C566.24 641.23 567.04 641.27 568.02 640.43C569.00 639.59 570.55 637.15 571.53 635.70C572.51 634.24 573.31 632.35 574.15 631.32C575.00 630.28 575.80 629.16 576.78 629.22C577.76 629.27 579.31 631.33 580.29 631.67C581.27 632.00 582.07 630.53 582.91 631.32C583.76 632.10 584.56 634.89 585.54 636.57C586.52 638.26 587.93 640.57 589.05 641.83C590.17 643.09 591.43 643.62 592.55 644.46C593.67 645.30 595.07 646.52 596.05 647.08C597.04 647.65 597.84 648.30 598.68 647.96C599.52 647.62 600.33 645.35 601.31 644.98C602.29 644.62 603.55 645.35 604.81 645.68C606.07 646.02 607.93 647.56 609.19 647.08C610.45 646.61 611.49 644.05 612.70 642.70C613.90 641.36 615.69 638.96 616.73 638.68C617.76 638.40 618.28 639.89 619.18 640.95C620.08 642.02 621.27 644.58 622.33 645.33C623.40 646.09 624.86 645.82 625.84 645.68C626.82 645.54 627.62 645.35 628.46 644.46C629.31 643.56 630.25 640.92 631.09 640.08C631.93 639.24 633.02 639.62 633.72 639.20C634.42 638.78 634.83 637.03 635.47 637.45C636.12 637.87 637.05 640.71 637.75 641.83C638.45 642.95 639.01 644.23 639.85 644.46C640.69 644.68 642.16 644.49 643.01 643.23C643.85 641.97 644.44 638.90 645.11 636.57C645.78 634.25 646.51 630.37 647.21 628.69C647.91 627.01 648.76 625.92 649.49 626.06C650.22 626.20 651.12 627.46 651.77 629.57C652.41 631.67 652.96 636.40 653.52 639.20C654.08 642.00 654.51 645.68 655.27 647.08C656.03 648.49 657.35 648.10 658.25 647.96C659.14 647.82 660.03 646.41 660.88 646.21C661.72 646.01 662.58 646.59 663.50 646.73C664.43 646.87 666.15 647.03 666.66 647.08" fill="none" stroke="#1338d8" stroke-width="1.6" stroke-linejoin="round" stroke-linecap="round"/>
<path d="M427.88 644.46C428.30 644.74 429.52 645.79 430.50 646.21C431.48 646.63 432.89 647.08 434.01 647.08C435.13 647.08 436.39 646.43 437.51 646.21C438.63 645.98 439.89 645.54 441.02 645.68C442.14 645.82 443.12 647.00 444.52 647.08C445.92 647.17 448.09 646.35 449.78 646.21C451.46 646.07 453.63 646.41 455.03 646.21C456.43 646.01 457.55 644.70 458.53 644.98C459.52 645.26 460.27 647.06 461.16 647.96C462.06 648.86 463.16 651.01 464.14 650.59C465.12 650.17 466.23 645.89 467.29 645.33C468.36 644.77 469.68 646.86 470.80 647.08C471.92 647.31 473.18 646.45 474.30 646.73C475.42 647.01 476.68 648.78 477.81 648.84C478.93 648.89 480.19 647.22 481.31 647.08C482.43 646.94 483.75 647.34 484.81 647.96C485.88 648.58 486.99 651.36 487.97 650.94C488.95 650.52 490.05 646.65 490.95 645.33C491.84 644.02 492.82 642.42 493.57 642.70C494.33 642.99 494.83 646.10 495.68 647.08C496.52 648.07 497.90 648.89 498.83 648.84C499.75 648.78 500.62 647.63 501.46 646.73C502.30 645.84 503.24 644.30 504.08 643.23C504.93 642.17 505.87 640.25 506.71 640.08C507.55 639.91 508.50 641.39 509.34 642.18C510.18 642.96 510.99 644.62 511.97 644.98C512.95 645.35 514.49 644.82 515.47 644.46C516.45 644.09 517.12 642.70 518.10 642.70C519.08 642.70 520.54 643.42 521.60 644.46C522.67 645.49 523.78 649.33 524.76 649.19C525.74 649.05 526.78 645.26 527.74 643.58C528.69 641.90 529.73 639.01 530.71 638.68C531.70 638.34 532.80 640.36 533.87 641.48C534.93 642.60 536.25 644.79 537.37 645.68C538.49 646.58 539.75 646.80 540.88 647.08C542.00 647.37 543.40 647.58 544.38 647.44C545.36 647.30 546.02 646.49 547.00 646.21C547.98 645.93 549.38 645.40 550.50 645.68C551.63 645.96 552.89 647.79 554.01 647.96C555.13 648.13 556.39 647.15 557.51 646.73C558.63 646.31 559.89 646.12 561.02 645.33C562.14 644.55 563.45 642.95 564.52 641.83C565.58 640.71 566.69 637.90 567.67 638.33C568.65 638.75 569.70 642.78 570.65 644.46C571.60 646.14 572.65 648.84 573.63 648.84C574.61 648.84 575.72 645.44 576.78 644.46C577.85 643.48 579.17 642.70 580.29 642.70C581.41 642.70 582.67 644.32 583.79 644.46C584.91 644.60 586.31 644.06 587.29 643.58C588.28 643.10 589.08 642.18 589.92 641.48C590.76 640.78 591.71 639.09 592.55 639.20C593.39 639.31 594.34 640.78 595.18 642.18C596.02 643.58 596.96 646.90 597.81 647.96C598.65 649.03 599.59 649.12 600.43 648.84C601.27 648.56 602.22 647.19 603.06 646.21C603.90 645.23 604.90 642.70 605.69 642.70C606.47 642.70 607.21 644.89 607.97 646.21C608.72 647.53 609.52 650.66 610.42 650.94C611.32 651.22 612.51 648.63 613.57 647.96C614.64 647.29 615.96 646.65 617.08 646.73C618.20 646.82 619.46 648.43 620.58 648.49C621.70 648.54 622.96 647.45 624.08 647.08C625.21 646.72 626.47 646.49 627.59 646.21C628.71 645.93 630.03 644.69 631.09 645.33C632.16 645.98 633.26 649.82 634.25 650.24C635.23 650.66 636.33 648.89 637.22 647.96C638.12 647.04 638.87 644.74 639.85 644.46C640.83 644.18 642.09 646.01 643.36 646.21C644.62 646.41 646.33 645.60 647.74 645.68C649.14 645.77 650.71 646.65 652.12 646.73C653.52 646.82 655.09 646.38 656.50 646.21C657.90 646.04 659.25 645.54 660.88 645.68C662.50 645.82 665.73 646.86 666.66 647.08" fill="none" stroke="#f7a81b" stroke-width="1.6" stroke-linejoin="round" stroke-linecap="round"/>
<path d="M427.88 729.19C428.44 729.13 430.40 729.45 431.38 728.84C432.36 728.22 433.03 726.17 434.01 725.33C434.99 724.49 436.39 723.72 437.51 723.58C438.63 723.44 439.89 724.68 441.02 724.46C442.14 724.23 443.54 722.46 444.52 722.18C445.50 721.90 446.31 722.20 447.15 722.70C447.99 723.21 448.79 724.86 449.78 725.33C450.76 725.81 452.16 726.10 453.28 725.68C454.40 725.26 455.66 723.60 456.78 722.70C457.90 721.81 459.17 720.92 460.29 720.08C461.41 719.24 462.67 718.15 463.79 717.45C464.91 716.75 466.31 715.89 467.29 715.70C468.28 715.50 469.08 716.64 469.92 716.22C470.76 715.80 471.57 713.99 472.55 713.07C473.53 712.14 475.07 711.06 476.05 710.44C477.04 709.82 477.84 709.36 478.68 709.22C479.52 709.07 480.47 710.21 481.31 709.57C482.15 708.92 483.10 707.43 483.94 705.19C484.78 702.94 485.72 698.35 486.57 695.55C487.41 692.75 488.35 690.05 489.19 687.67C490.03 685.28 490.98 682.54 491.82 680.66C492.66 678.78 493.61 676.57 494.45 675.93C495.29 675.28 496.24 676.01 497.08 676.63C497.92 677.25 498.86 678.30 499.70 679.78C500.55 681.27 501.49 683.53 502.33 685.91C503.17 688.30 504.12 691.59 504.96 694.67C505.80 697.76 506.75 702.94 507.59 705.19C508.43 707.43 509.38 707.85 510.22 708.69C511.06 709.53 512.00 709.46 512.84 710.44C513.69 711.42 514.63 713.70 515.47 714.82C516.31 715.94 517.12 716.89 518.10 717.45C519.08 718.01 520.48 717.76 521.60 718.33C522.73 718.89 523.99 720.34 525.11 720.95C526.23 721.57 527.49 722.18 528.61 722.18C529.73 722.18 530.85 721.07 532.12 720.95C533.38 720.84 535.09 721.39 536.50 721.48C537.90 721.56 539.61 721.70 540.88 721.48C542.14 721.25 543.40 720.36 544.38 720.08C545.36 719.80 546.02 719.50 547.00 719.73C547.98 719.95 549.24 721.28 550.50 721.48C551.77 721.67 553.48 720.95 554.88 720.95C556.29 720.95 557.86 721.20 559.26 721.48C560.67 721.76 562.38 722.79 563.64 722.70C564.90 722.62 566.17 721.71 567.15 720.95C568.13 720.20 568.79 718.40 569.78 717.97C570.76 717.55 572.16 718.97 573.28 718.33C574.40 717.68 575.80 715.35 576.78 713.95C577.76 712.54 578.43 710.69 579.41 709.57C580.39 708.44 581.93 708.48 582.91 706.94C583.90 705.40 584.70 702.59 585.54 699.93C586.38 697.27 587.33 693.10 588.17 690.29C589.01 687.49 589.96 684.37 590.80 682.41C591.64 680.45 592.53 679.07 593.43 678.03C594.32 676.99 595.56 675.79 596.40 675.93C597.25 676.07 597.90 677.59 598.68 678.91C599.47 680.22 600.47 682.20 601.31 684.16C602.15 686.12 603.10 689.07 603.94 691.17C604.78 693.27 605.81 695.20 606.57 697.30C607.32 699.40 607.97 702.49 608.67 704.31C609.37 706.13 610.02 707.85 610.95 708.69C611.87 709.53 613.33 709.09 614.45 709.57C615.57 710.04 616.83 710.69 617.95 711.67C619.07 712.65 620.34 714.97 621.46 715.70C622.58 716.43 623.84 715.80 624.96 716.22C626.08 716.64 627.34 717.57 628.46 718.33C629.59 719.08 630.85 720.11 631.97 720.95C633.09 721.79 634.35 722.82 635.47 723.58C636.59 724.34 637.85 725.40 638.98 725.68C640.10 725.96 641.50 725.89 642.48 725.33C643.46 724.77 644.27 722.74 645.11 722.18C645.95 721.62 646.89 721.46 647.74 721.83C648.58 722.19 649.38 724.04 650.36 724.46C651.34 724.88 652.75 724.32 653.87 724.46C654.99 724.60 656.25 724.69 657.37 725.33C658.49 725.98 659.75 727.87 660.88 728.49C662.00 729.10 663.45 729.07 664.38 729.19C665.30 729.30 666.29 729.19 666.66 729.19" fill="none" stroke="#1338d8" stroke-width="1.6" stroke-linejoin="round" stroke-linecap="round"/>
<path d="M427.88 727.96C428.30 727.54 429.52 726.17 430.50 725.33C431.48 724.49 433.03 723.27 434.01 722.70C434.99 722.14 435.79 722.03 436.64 721.83C437.48 721.63 438.42 721.06 439.26 721.48C440.10 721.90 441.05 723.84 441.89 724.46C442.73 725.07 443.68 725.33 444.52 725.33C445.36 725.33 446.17 725.07 447.15 724.46C448.13 723.84 449.53 722.18 450.65 721.48C451.77 720.78 453.03 720.64 454.15 720.08C455.28 719.52 456.54 718.48 457.66 717.97C458.78 717.47 460.18 717.20 461.16 716.92C462.14 716.64 462.95 715.72 463.79 716.22C464.63 716.73 465.58 719.24 466.42 720.08C467.26 720.92 468.07 721.25 469.05 721.48C470.03 721.70 471.57 721.84 472.55 721.48C473.53 721.11 474.34 720.27 475.18 719.20C476.02 718.14 476.96 715.66 477.81 714.82C478.65 713.98 479.59 714.65 480.43 713.95C481.27 713.24 482.22 711.70 483.06 710.44C483.90 709.18 484.85 706.99 485.69 706.06C486.53 705.14 487.48 705.50 488.32 704.66C489.16 703.82 490.10 701.98 490.95 700.81C491.79 699.63 492.82 698.20 493.57 697.30C494.33 696.41 494.97 694.92 495.68 695.20C496.38 695.48 497.17 697.88 497.95 699.05C498.74 700.23 499.74 701.44 500.58 702.56C501.42 703.68 502.37 705.08 503.21 706.06C504.05 707.04 504.86 707.99 505.84 708.69C506.82 709.39 508.36 709.60 509.34 710.44C510.32 711.28 511.13 712.91 511.97 713.95C512.81 714.98 513.90 716.28 514.60 716.92C515.30 717.57 515.65 718.73 516.35 717.97C517.05 717.22 518.00 713.40 518.98 712.19C519.96 710.99 521.64 709.88 522.48 710.44C523.32 711.00 523.53 714.16 524.23 715.70C524.93 717.24 526.02 719.10 526.86 720.08C527.70 721.06 528.65 721.83 529.49 721.83C530.33 721.83 531.13 720.86 532.12 720.08C533.10 719.29 534.64 717.06 535.62 716.92C536.60 716.78 537.27 717.91 538.25 719.20C539.23 720.49 540.77 724.28 541.75 724.98C542.73 725.68 543.54 723.67 544.38 723.58C545.22 723.50 546.16 724.23 547.00 724.46C547.84 724.68 548.79 725.82 549.63 724.98C550.47 724.14 551.41 720.49 552.26 719.20C553.10 717.91 554.04 717.01 554.88 716.92C555.72 716.84 556.67 718.03 557.51 718.68C558.35 719.32 559.30 720.50 560.14 720.95C560.98 721.40 561.93 721.76 562.77 721.48C563.61 721.20 564.55 720.27 565.40 719.20C566.24 718.14 567.32 716.22 568.02 714.82C568.72 713.42 569.07 711.00 569.78 710.44C570.48 709.88 571.62 710.56 572.40 711.32C573.19 712.07 573.98 714.33 574.68 715.17C575.38 716.01 576.03 717.05 576.78 716.57C577.54 716.10 578.57 713.31 579.41 712.19C580.25 711.07 581.20 710.04 582.04 709.57C582.88 709.09 583.83 709.78 584.67 709.22C585.51 708.65 586.45 706.85 587.29 706.06C588.14 705.28 589.08 705.43 589.92 704.31C590.76 703.19 591.57 700.60 592.55 699.05C593.53 697.51 595.16 694.81 596.05 694.67C596.95 694.53 597.46 696.92 598.16 698.18C598.86 699.44 599.65 701.58 600.43 702.56C601.22 703.54 602.22 703.75 603.06 704.31C603.90 704.87 604.85 705.08 605.69 706.06C606.53 707.04 607.48 709.18 608.32 710.44C609.16 711.70 610.10 713.10 610.95 713.95C611.79 714.79 612.73 714.86 613.57 715.70C614.41 716.54 615.22 718.28 616.20 719.20C617.18 720.13 618.58 721.34 619.70 721.48C620.83 721.62 622.23 720.36 623.21 720.08C624.19 719.80 625.08 720.29 625.84 719.73C626.59 719.17 627.10 716.94 627.94 716.57C628.78 716.21 630.03 717.17 631.09 717.45C632.16 717.73 633.48 717.90 634.60 718.33C635.72 718.75 636.84 719.52 638.10 720.08C639.36 720.64 641.36 720.93 642.48 721.83C643.60 722.73 644.13 725.40 645.11 725.68C646.09 725.96 647.49 724.20 648.61 723.58C649.73 722.96 650.99 722.17 652.12 721.83C653.24 721.49 654.50 721.20 655.62 721.48C656.74 721.76 658.14 722.68 659.12 723.58C660.10 724.48 660.91 726.30 661.75 727.08C662.59 727.87 663.59 728.26 664.38 728.49C665.16 728.71 666.29 728.49 666.66 728.49" fill="none" stroke="#f7a81b" stroke-width="1.6" stroke-linejoin="round" stroke-linecap="round"/>
</g>
<rect x="427.6" y="352.6" width="239.10" height="425.90" fill="none" stroke="#5e5e5e" stroke-width="0.95"/>
<text x="445.10" y="791.00" font-size="9.1" text-anchor="middle" textLength="8.80" lengthAdjust="spacingAndGlyphs" fill="#1a1a1a" >−2</text>
<text x="496.60" y="791.00" font-size="9.1" text-anchor="middle" textLength="8.80" lengthAdjust="spacingAndGlyphs" fill="#1a1a1a" >−1</text>
<text x="547.80" y="791.00" font-size="9.1" text-anchor="middle" textLength="4.90" lengthAdjust="spacingAndGlyphs" fill="#1a1a1a" >0</text>
<text x="597.90" y="791.00" font-size="9.1" text-anchor="middle" textLength="4.90" lengthAdjust="spacingAndGlyphs" fill="#1a1a1a" >1</text>
<text x="650.40" y="791.00" font-size="9.1" text-anchor="middle" textLength="4.90" lengthAdjust="spacingAndGlyphs" fill="#1a1a1a" >2</text>
<text x="524.4" y="805.2" font-size="10.2" fill="#1a1a1a" textLength="43.8" lengthAdjust="spacingAndGlyphs"><tspan font-style="italic">q</tspan><tspan dy="2.2" font-size="6.6">c*</tspan><tspan dy="-2.2" font-size="10.2">(π/c*)</tspan></text>
<text transform="translate(676.2 510.8) rotate(90)" font-size="10.2" fill="#1a1a1a" textLength="109.1" lengthAdjust="spacingAndGlyphs">Normalized intensities</text>
<line x1="577.2" y1="367.6" x2="592.9" y2="367.6" stroke="#1338d8" stroke-width="1.6"/>
<line x1="577.2" y1="383.5" x2="592.9" y2="383.5" stroke="#f7a81b" stroke-width="1.6"/>
<text x="602.80" y="370.30" font-size="8.8" textLength="31.80" lengthAdjust="spacingAndGlyphs" fill="#1a1a1a" >280 mK</text>
<text x="602.80" y="386.20" font-size="8.8" textLength="19.70" lengthAdjust="spacingAndGlyphs" fill="#1a1a1a" >4.2 K</text>
<text x="556.10" y="396.00" font-size="11.0" font-weight="bold" fill="#111">q<tspan dy="2.4" font-size="8.0" font-weight="normal">6</tspan></text>
<text x="608.30" y="492.40" font-size="11.0" font-weight="bold" fill="#111">q<tspan dy="2.4" font-size="8.0" font-weight="normal">2</tspan></text>
<text x="556.60" y="596.60" font-size="11.0" font-weight="bold" fill="#111">q<tspan dy="2.4" font-size="8.0" font-weight="normal">1</tspan></text>
<text x="634.60" y="625.20" font-size="11.0" font-weight="bold" fill="#111">q<tspan dy="2.4" font-size="8.0" font-weight="normal">3</tspan></text>
<text x="605.30" y="677.70" font-size="11.0" font-weight="bold" fill="#111">q<tspan dy="2.4" font-size="8.0" font-weight="normal">5</tspan></text>
</svg>
</body></html>
